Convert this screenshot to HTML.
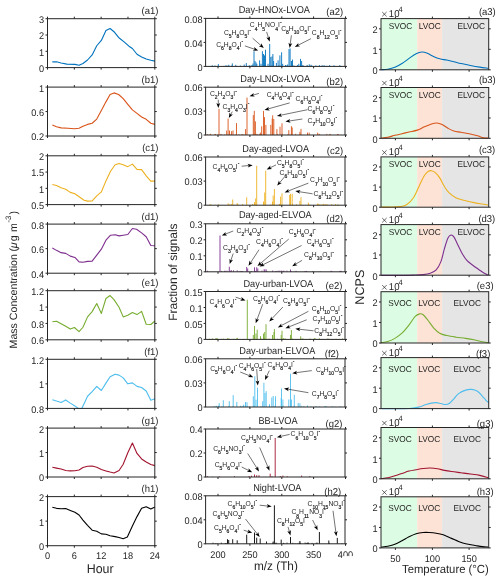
<!DOCTYPE html>
<html><head><meta charset="utf-8"><style>
html,body{margin:0;padding:0;background:#fff;}
svg{display:block;font-family:"Liberation Sans",sans-serif;will-change:transform;text-rendering:geometricPrecision;}
</style></head><body>
<svg width="500" height="581" viewBox="0 0 500 581">
<rect width="500" height="581" fill="#fff"/>
<polyline points="52.36,61.84 56.5,61.84 61.1,62.99 66.85,64.14 74.9,64.37 79.04,65.29 82.95,63.45 87.55,60 92.15,54.94 96.75,45.74 101.35,40.45 105.95,30.56 110.09,28.49 114,31.71 118.6,37.46 124.35,42.06 128.95,46.2 132.4,48.5 137,54.25 141.6,57.01 146.2,59.08 150.8,60.23 154.94,61.15" fill="none" stroke="#0072BD" stroke-width="1.1" stroke-linejoin="round"/>
<line x1="47.5" y1="67.6" x2="47.5" y2="69.6" stroke="#262626" stroke-width="1"/>
<line x1="47.5" y1="18.7" x2="47.5" y2="16.7" stroke="#262626" stroke-width="1"/>
<line x1="74.33" y1="67.6" x2="74.33" y2="69.6" stroke="#262626" stroke-width="1"/>
<line x1="74.33" y1="18.7" x2="74.33" y2="16.7" stroke="#262626" stroke-width="1"/>
<line x1="101.15" y1="67.6" x2="101.15" y2="69.6" stroke="#262626" stroke-width="1"/>
<line x1="101.15" y1="18.7" x2="101.15" y2="16.7" stroke="#262626" stroke-width="1"/>
<line x1="127.98" y1="67.6" x2="127.98" y2="69.6" stroke="#262626" stroke-width="1"/>
<line x1="127.98" y1="18.7" x2="127.98" y2="16.7" stroke="#262626" stroke-width="1"/>
<line x1="154.8" y1="67.6" x2="154.8" y2="69.6" stroke="#262626" stroke-width="1"/>
<line x1="154.8" y1="18.7" x2="154.8" y2="16.7" stroke="#262626" stroke-width="1"/>
<line x1="47.5" y1="67.6" x2="45.5" y2="67.6" stroke="#262626" stroke-width="1"/>
<line x1="154.8" y1="67.6" x2="156.8" y2="67.6" stroke="#262626" stroke-width="1"/>
<line x1="47.5" y1="51.3" x2="45.5" y2="51.3" stroke="#262626" stroke-width="1"/>
<line x1="154.8" y1="51.3" x2="156.8" y2="51.3" stroke="#262626" stroke-width="1"/>
<line x1="47.5" y1="35" x2="45.5" y2="35" stroke="#262626" stroke-width="1"/>
<line x1="154.8" y1="35" x2="156.8" y2="35" stroke="#262626" stroke-width="1"/>
<line x1="47.5" y1="18.7" x2="45.5" y2="18.7" stroke="#262626" stroke-width="1"/>
<line x1="154.8" y1="18.7" x2="156.8" y2="18.7" stroke="#262626" stroke-width="1"/>
<rect x="47.5" y="18.7" width="107.3" height="48.9" fill="none" stroke="#262626" stroke-width="1"/>
<text transform="translate(44,72) scale(1,1.05)" font-size="9.2" text-anchor="end" fill="#262626" >0</text>
<text transform="translate(44,55.7) scale(1,1.05)" font-size="9.2" text-anchor="end" fill="#262626" >1</text>
<text transform="translate(44,39.4) scale(1,1.05)" font-size="9.2" text-anchor="end" fill="#262626" >2</text>
<text transform="translate(44,23.1) scale(1,1.05)" font-size="9.2" text-anchor="end" fill="#262626" >3</text>
<text transform="translate(158.5,14.1) scale(1,1.04)" font-size="9.5" text-anchor="end" fill="#262626" >(a1)</text>
<polyline points="52.36,125.09 56.5,126.7 61.1,127.85 68,128.31 74.44,128.77 79.04,128.31 82.95,126.24 87.55,124.4 92.15,123.25 96.75,119.11 101.35,110.6 105.95,101.86 110.09,94.5 114,92.89 118.6,94.5 123.2,98.64 127.8,104.39 132.4,109.91 137,113.36 141.6,117.04 146.2,119.34 150.8,123.25 154.94,124.4" fill="none" stroke="#D95319" stroke-width="1.1" stroke-linejoin="round"/>
<line x1="47.5" y1="136" x2="47.5" y2="138" stroke="#262626" stroke-width="1"/>
<line x1="47.5" y1="87.1" x2="47.5" y2="85.1" stroke="#262626" stroke-width="1"/>
<line x1="74.33" y1="136" x2="74.33" y2="138" stroke="#262626" stroke-width="1"/>
<line x1="74.33" y1="87.1" x2="74.33" y2="85.1" stroke="#262626" stroke-width="1"/>
<line x1="101.15" y1="136" x2="101.15" y2="138" stroke="#262626" stroke-width="1"/>
<line x1="101.15" y1="87.1" x2="101.15" y2="85.1" stroke="#262626" stroke-width="1"/>
<line x1="127.98" y1="136" x2="127.98" y2="138" stroke="#262626" stroke-width="1"/>
<line x1="127.98" y1="87.1" x2="127.98" y2="85.1" stroke="#262626" stroke-width="1"/>
<line x1="154.8" y1="136" x2="154.8" y2="138" stroke="#262626" stroke-width="1"/>
<line x1="154.8" y1="87.1" x2="154.8" y2="85.1" stroke="#262626" stroke-width="1"/>
<line x1="47.5" y1="136" x2="45.5" y2="136" stroke="#262626" stroke-width="1"/>
<line x1="154.8" y1="136" x2="156.8" y2="136" stroke="#262626" stroke-width="1"/>
<line x1="47.5" y1="111.55" x2="45.5" y2="111.55" stroke="#262626" stroke-width="1"/>
<line x1="154.8" y1="111.55" x2="156.8" y2="111.55" stroke="#262626" stroke-width="1"/>
<line x1="47.5" y1="87.1" x2="45.5" y2="87.1" stroke="#262626" stroke-width="1"/>
<line x1="154.8" y1="87.1" x2="156.8" y2="87.1" stroke="#262626" stroke-width="1"/>
<rect x="47.5" y="87.1" width="107.3" height="48.9" fill="none" stroke="#262626" stroke-width="1"/>
<text transform="translate(44,140.4) scale(1,1.05)" font-size="9.2" text-anchor="end" fill="#262626" >0.2</text>
<text transform="translate(44,115.95) scale(1,1.05)" font-size="9.2" text-anchor="end" fill="#262626" >0.6</text>
<text transform="translate(44,91.5) scale(1,1.05)" font-size="9.2" text-anchor="end" fill="#262626" >1</text>
<text transform="translate(158.5,82.5) scale(1,1.04)" font-size="9.5" text-anchor="end" fill="#262626" >(b1)</text>
<polyline points="52.36,184.58 56.5,185.5 61.1,187.8 65.7,189.18 70.3,192.4 74.9,193.78 79.5,197 84.1,200.22 87.55,201.14 92.15,200.91 96.75,195.85 101.35,191.94 105.95,180.9 110.55,171.24 115.15,164.8 119.06,163.42 123.2,164.8 127.8,166.64 132.4,164.11 137,169.4 141.6,169.63 146.2,175.84 150.8,181.13 154.94,181.13" fill="none" stroke="#EDB120" stroke-width="1.1" stroke-linejoin="round"/>
<line x1="47.5" y1="204.6" x2="47.5" y2="206.6" stroke="#262626" stroke-width="1"/>
<line x1="47.5" y1="155.8" x2="47.5" y2="153.8" stroke="#262626" stroke-width="1"/>
<line x1="74.33" y1="204.6" x2="74.33" y2="206.6" stroke="#262626" stroke-width="1"/>
<line x1="74.33" y1="155.8" x2="74.33" y2="153.8" stroke="#262626" stroke-width="1"/>
<line x1="101.15" y1="204.6" x2="101.15" y2="206.6" stroke="#262626" stroke-width="1"/>
<line x1="101.15" y1="155.8" x2="101.15" y2="153.8" stroke="#262626" stroke-width="1"/>
<line x1="127.98" y1="204.6" x2="127.98" y2="206.6" stroke="#262626" stroke-width="1"/>
<line x1="127.98" y1="155.8" x2="127.98" y2="153.8" stroke="#262626" stroke-width="1"/>
<line x1="154.8" y1="204.6" x2="154.8" y2="206.6" stroke="#262626" stroke-width="1"/>
<line x1="154.8" y1="155.8" x2="154.8" y2="153.8" stroke="#262626" stroke-width="1"/>
<line x1="47.5" y1="204.6" x2="45.5" y2="204.6" stroke="#262626" stroke-width="1"/>
<line x1="154.8" y1="204.6" x2="156.8" y2="204.6" stroke="#262626" stroke-width="1"/>
<line x1="47.5" y1="188.33" x2="45.5" y2="188.33" stroke="#262626" stroke-width="1"/>
<line x1="154.8" y1="188.33" x2="156.8" y2="188.33" stroke="#262626" stroke-width="1"/>
<line x1="47.5" y1="172.07" x2="45.5" y2="172.07" stroke="#262626" stroke-width="1"/>
<line x1="154.8" y1="172.07" x2="156.8" y2="172.07" stroke="#262626" stroke-width="1"/>
<line x1="47.5" y1="155.8" x2="45.5" y2="155.8" stroke="#262626" stroke-width="1"/>
<line x1="154.8" y1="155.8" x2="156.8" y2="155.8" stroke="#262626" stroke-width="1"/>
<rect x="47.5" y="155.8" width="107.3" height="48.8" fill="none" stroke="#262626" stroke-width="1"/>
<text transform="translate(44,209) scale(1,1.05)" font-size="9.2" text-anchor="end" fill="#262626" >0.5</text>
<text transform="translate(44,192.73) scale(1,1.05)" font-size="9.2" text-anchor="end" fill="#262626" >1</text>
<text transform="translate(44,176.47) scale(1,1.05)" font-size="9.2" text-anchor="end" fill="#262626" >1.5</text>
<text transform="translate(44,160.2) scale(1,1.05)" font-size="9.2" text-anchor="end" fill="#262626" >2</text>
<text transform="translate(158.5,151.2) scale(1,1.04)" font-size="9.5" text-anchor="end" fill="#262626" >(c1)</text>
<polyline points="52.36,248.06 56.5,250.36 61.1,252.66 65.7,253.35 70.3,256.11 74.9,257.49 79.04,261.86 82.95,262.32 87.55,261.4 92.15,261.17 96.75,255.19 101.35,249.21 105.95,240.24 110.55,235.18 115.15,234.72 119.06,235.87 123.2,235.18 127.8,234.49 132.4,228.51 136.54,229.2 141.6,232.88 146.2,236.79 150.8,245.53 154.94,245.76" fill="none" stroke="#7E2F8E" stroke-width="1.1" stroke-linejoin="round"/>
<line x1="47.5" y1="273.2" x2="47.5" y2="275.2" stroke="#262626" stroke-width="1"/>
<line x1="47.5" y1="224.1" x2="47.5" y2="222.1" stroke="#262626" stroke-width="1"/>
<line x1="74.33" y1="273.2" x2="74.33" y2="275.2" stroke="#262626" stroke-width="1"/>
<line x1="74.33" y1="224.1" x2="74.33" y2="222.1" stroke="#262626" stroke-width="1"/>
<line x1="101.15" y1="273.2" x2="101.15" y2="275.2" stroke="#262626" stroke-width="1"/>
<line x1="101.15" y1="224.1" x2="101.15" y2="222.1" stroke="#262626" stroke-width="1"/>
<line x1="127.98" y1="273.2" x2="127.98" y2="275.2" stroke="#262626" stroke-width="1"/>
<line x1="127.98" y1="224.1" x2="127.98" y2="222.1" stroke="#262626" stroke-width="1"/>
<line x1="154.8" y1="273.2" x2="154.8" y2="275.2" stroke="#262626" stroke-width="1"/>
<line x1="154.8" y1="224.1" x2="154.8" y2="222.1" stroke="#262626" stroke-width="1"/>
<line x1="47.5" y1="273.2" x2="45.5" y2="273.2" stroke="#262626" stroke-width="1"/>
<line x1="154.8" y1="273.2" x2="156.8" y2="273.2" stroke="#262626" stroke-width="1"/>
<line x1="47.5" y1="248.65" x2="45.5" y2="248.65" stroke="#262626" stroke-width="1"/>
<line x1="154.8" y1="248.65" x2="156.8" y2="248.65" stroke="#262626" stroke-width="1"/>
<line x1="47.5" y1="224.1" x2="45.5" y2="224.1" stroke="#262626" stroke-width="1"/>
<line x1="154.8" y1="224.1" x2="156.8" y2="224.1" stroke="#262626" stroke-width="1"/>
<rect x="47.5" y="224.1" width="107.3" height="49.1" fill="none" stroke="#262626" stroke-width="1"/>
<text transform="translate(44,277.6) scale(1,1.05)" font-size="9.2" text-anchor="end" fill="#262626" >0.4</text>
<text transform="translate(44,253.05) scale(1,1.05)" font-size="9.2" text-anchor="end" fill="#262626" >0.6</text>
<text transform="translate(44,228.5) scale(1,1.05)" font-size="9.2" text-anchor="end" fill="#262626" >0.8</text>
<text transform="translate(158.5,219.5) scale(1,1.04)" font-size="9.5" text-anchor="end" fill="#262626" >(d1)</text>
<polyline points="52.36,321.73 56.5,321.27 61.1,323.8 65.7,326.33 70.3,329.09 74.44,327.48 79.04,331.62 82.95,327.25 87.55,316.9 92.15,311.61 96.75,303.56 101.35,313.45 105.95,298.5 110.09,295.51 114,299.65 119.06,307.24 123.2,316.9 127.8,315.29 132.4,312.53 137,314.6 141.6,311.38 146.2,324.26 150.8,324.49 154.94,321.04" fill="none" stroke="#77AC30" stroke-width="1.1" stroke-linejoin="round"/>
<line x1="47.5" y1="339.8" x2="47.5" y2="341.8" stroke="#262626" stroke-width="1"/>
<line x1="47.5" y1="290.7" x2="47.5" y2="288.7" stroke="#262626" stroke-width="1"/>
<line x1="74.33" y1="339.8" x2="74.33" y2="341.8" stroke="#262626" stroke-width="1"/>
<line x1="74.33" y1="290.7" x2="74.33" y2="288.7" stroke="#262626" stroke-width="1"/>
<line x1="101.15" y1="339.8" x2="101.15" y2="341.8" stroke="#262626" stroke-width="1"/>
<line x1="101.15" y1="290.7" x2="101.15" y2="288.7" stroke="#262626" stroke-width="1"/>
<line x1="127.98" y1="339.8" x2="127.98" y2="341.8" stroke="#262626" stroke-width="1"/>
<line x1="127.98" y1="290.7" x2="127.98" y2="288.7" stroke="#262626" stroke-width="1"/>
<line x1="154.8" y1="339.8" x2="154.8" y2="341.8" stroke="#262626" stroke-width="1"/>
<line x1="154.8" y1="290.7" x2="154.8" y2="288.7" stroke="#262626" stroke-width="1"/>
<line x1="47.5" y1="339.8" x2="45.5" y2="339.8" stroke="#262626" stroke-width="1"/>
<line x1="154.8" y1="339.8" x2="156.8" y2="339.8" stroke="#262626" stroke-width="1"/>
<line x1="47.5" y1="323.43" x2="45.5" y2="323.43" stroke="#262626" stroke-width="1"/>
<line x1="154.8" y1="323.43" x2="156.8" y2="323.43" stroke="#262626" stroke-width="1"/>
<line x1="47.5" y1="307.07" x2="45.5" y2="307.07" stroke="#262626" stroke-width="1"/>
<line x1="154.8" y1="307.07" x2="156.8" y2="307.07" stroke="#262626" stroke-width="1"/>
<line x1="47.5" y1="290.7" x2="45.5" y2="290.7" stroke="#262626" stroke-width="1"/>
<line x1="154.8" y1="290.7" x2="156.8" y2="290.7" stroke="#262626" stroke-width="1"/>
<rect x="47.5" y="290.7" width="107.3" height="49.1" fill="none" stroke="#262626" stroke-width="1"/>
<text transform="translate(44,344.2) scale(1,1.05)" font-size="9.2" text-anchor="end" fill="#262626" >0.6</text>
<text transform="translate(44,327.83) scale(1,1.05)" font-size="9.2" text-anchor="end" fill="#262626" >0.8</text>
<text transform="translate(44,311.47) scale(1,1.05)" font-size="9.2" text-anchor="end" fill="#262626" >1</text>
<text transform="translate(44,295.1) scale(1,1.05)" font-size="9.2" text-anchor="end" fill="#262626" >1.2</text>
<text transform="translate(158.5,286.1) scale(1,1.04)" font-size="9.5" text-anchor="end" fill="#262626" >(e1)</text>
<polyline points="52.36,399.7 56.5,401.08 61.1,402.46 65.7,399.93 70.3,403.15 74.9,405.91 78.35,408.44 81.8,408.44 87.55,396.25 92.15,391.65 96.75,386.36 101.35,390.5 105.95,383.14 110.09,376.7 115.15,374.17 119.06,375.09 123.2,377.85 127.8,383.83 132.4,382.91 137,386.36 141.6,387.51 146.2,390.96 150.8,400.16 154.94,398.78" fill="none" stroke="#4DBEEE" stroke-width="1.1" stroke-linejoin="round"/>
<line x1="47.5" y1="408.4" x2="47.5" y2="410.4" stroke="#262626" stroke-width="1"/>
<line x1="47.5" y1="359.3" x2="47.5" y2="357.3" stroke="#262626" stroke-width="1"/>
<line x1="74.33" y1="408.4" x2="74.33" y2="410.4" stroke="#262626" stroke-width="1"/>
<line x1="74.33" y1="359.3" x2="74.33" y2="357.3" stroke="#262626" stroke-width="1"/>
<line x1="101.15" y1="408.4" x2="101.15" y2="410.4" stroke="#262626" stroke-width="1"/>
<line x1="101.15" y1="359.3" x2="101.15" y2="357.3" stroke="#262626" stroke-width="1"/>
<line x1="127.98" y1="408.4" x2="127.98" y2="410.4" stroke="#262626" stroke-width="1"/>
<line x1="127.98" y1="359.3" x2="127.98" y2="357.3" stroke="#262626" stroke-width="1"/>
<line x1="154.8" y1="408.4" x2="154.8" y2="410.4" stroke="#262626" stroke-width="1"/>
<line x1="154.8" y1="359.3" x2="154.8" y2="357.3" stroke="#262626" stroke-width="1"/>
<line x1="47.5" y1="408.4" x2="45.5" y2="408.4" stroke="#262626" stroke-width="1"/>
<line x1="154.8" y1="408.4" x2="156.8" y2="408.4" stroke="#262626" stroke-width="1"/>
<line x1="47.5" y1="383.85" x2="45.5" y2="383.85" stroke="#262626" stroke-width="1"/>
<line x1="154.8" y1="383.85" x2="156.8" y2="383.85" stroke="#262626" stroke-width="1"/>
<line x1="47.5" y1="359.3" x2="45.5" y2="359.3" stroke="#262626" stroke-width="1"/>
<line x1="154.8" y1="359.3" x2="156.8" y2="359.3" stroke="#262626" stroke-width="1"/>
<rect x="47.5" y="359.3" width="107.3" height="49.1" fill="none" stroke="#262626" stroke-width="1"/>
<text transform="translate(44,412.8) scale(1,1.05)" font-size="9.2" text-anchor="end" fill="#262626" >0.8</text>
<text transform="translate(44,388.25) scale(1,1.05)" font-size="9.2" text-anchor="end" fill="#262626" >1</text>
<text transform="translate(44,363.7) scale(1,1.05)" font-size="9.2" text-anchor="end" fill="#262626" >1.2</text>
<text transform="translate(158.5,354.7) scale(1,1.04)" font-size="9.5" text-anchor="end" fill="#262626" >(f1)</text>
<polyline points="52.36,467.24 56.5,468.16 61.1,469.08 65.7,470.46 70.3,470.92 74.9,470.69 79.04,470 82.95,467.47 87.55,466.32 92.15,466.09 96.75,467.24 101.35,469.54 105.95,470.92 110.09,472.07 114,472.99 119.06,470.46 123.2,464.25 127.8,452.75 132.4,443.09 137,453.44 141.6,458.96 146.2,461.95 150.8,464.48 154.94,465.63" fill="none" stroke="#A2142F" stroke-width="1.1" stroke-linejoin="round"/>
<line x1="47.5" y1="477" x2="47.5" y2="479" stroke="#262626" stroke-width="1"/>
<line x1="47.5" y1="428.1" x2="47.5" y2="426.1" stroke="#262626" stroke-width="1"/>
<line x1="74.33" y1="477" x2="74.33" y2="479" stroke="#262626" stroke-width="1"/>
<line x1="74.33" y1="428.1" x2="74.33" y2="426.1" stroke="#262626" stroke-width="1"/>
<line x1="101.15" y1="477" x2="101.15" y2="479" stroke="#262626" stroke-width="1"/>
<line x1="101.15" y1="428.1" x2="101.15" y2="426.1" stroke="#262626" stroke-width="1"/>
<line x1="127.98" y1="477" x2="127.98" y2="479" stroke="#262626" stroke-width="1"/>
<line x1="127.98" y1="428.1" x2="127.98" y2="426.1" stroke="#262626" stroke-width="1"/>
<line x1="154.8" y1="477" x2="154.8" y2="479" stroke="#262626" stroke-width="1"/>
<line x1="154.8" y1="428.1" x2="154.8" y2="426.1" stroke="#262626" stroke-width="1"/>
<line x1="47.5" y1="477" x2="45.5" y2="477" stroke="#262626" stroke-width="1"/>
<line x1="154.8" y1="477" x2="156.8" y2="477" stroke="#262626" stroke-width="1"/>
<line x1="47.5" y1="452.55" x2="45.5" y2="452.55" stroke="#262626" stroke-width="1"/>
<line x1="154.8" y1="452.55" x2="156.8" y2="452.55" stroke="#262626" stroke-width="1"/>
<line x1="47.5" y1="428.1" x2="45.5" y2="428.1" stroke="#262626" stroke-width="1"/>
<line x1="154.8" y1="428.1" x2="156.8" y2="428.1" stroke="#262626" stroke-width="1"/>
<rect x="47.5" y="428.1" width="107.3" height="48.9" fill="none" stroke="#262626" stroke-width="1"/>
<text transform="translate(44,481.4) scale(1,1.05)" font-size="9.2" text-anchor="end" fill="#262626" >0</text>
<text transform="translate(44,456.95) scale(1,1.05)" font-size="9.2" text-anchor="end" fill="#262626" >1</text>
<text transform="translate(44,432.5) scale(1,1.05)" font-size="9.2" text-anchor="end" fill="#262626" >2</text>
<text transform="translate(158.5,423.5) scale(1,1.04)" font-size="9.5" text-anchor="end" fill="#262626" >(g1)</text>
<polyline points="52.36,507.18 56.5,508.33 61.1,508.79 65.7,508.56 70.3,510.4 74.9,512.24 79.04,515 82.95,520.06 87.55,525.35 92.15,530.18 96.75,531.33 101.35,533.86 105.95,534.32 110.09,535.7 115.15,536.62 119.06,537.54 123.2,538.69 127.34,537.08 132.4,526.04 137,516.61 141.6,508.33 146.2,506.72 150.8,509.02 154.94,506.95" fill="none" stroke="#000000" stroke-width="1.1" stroke-linejoin="round"/>
<line x1="47.5" y1="545.7" x2="47.5" y2="547.7" stroke="#262626" stroke-width="1"/>
<line x1="47.5" y1="496.6" x2="47.5" y2="494.6" stroke="#262626" stroke-width="1"/>
<line x1="74.33" y1="545.7" x2="74.33" y2="547.7" stroke="#262626" stroke-width="1"/>
<line x1="74.33" y1="496.6" x2="74.33" y2="494.6" stroke="#262626" stroke-width="1"/>
<line x1="101.15" y1="545.7" x2="101.15" y2="547.7" stroke="#262626" stroke-width="1"/>
<line x1="101.15" y1="496.6" x2="101.15" y2="494.6" stroke="#262626" stroke-width="1"/>
<line x1="127.98" y1="545.7" x2="127.98" y2="547.7" stroke="#262626" stroke-width="1"/>
<line x1="127.98" y1="496.6" x2="127.98" y2="494.6" stroke="#262626" stroke-width="1"/>
<line x1="154.8" y1="545.7" x2="154.8" y2="547.7" stroke="#262626" stroke-width="1"/>
<line x1="154.8" y1="496.6" x2="154.8" y2="494.6" stroke="#262626" stroke-width="1"/>
<line x1="47.5" y1="545.7" x2="45.5" y2="545.7" stroke="#262626" stroke-width="1"/>
<line x1="154.8" y1="545.7" x2="156.8" y2="545.7" stroke="#262626" stroke-width="1"/>
<line x1="47.5" y1="521.15" x2="45.5" y2="521.15" stroke="#262626" stroke-width="1"/>
<line x1="154.8" y1="521.15" x2="156.8" y2="521.15" stroke="#262626" stroke-width="1"/>
<line x1="47.5" y1="496.6" x2="45.5" y2="496.6" stroke="#262626" stroke-width="1"/>
<line x1="154.8" y1="496.6" x2="156.8" y2="496.6" stroke="#262626" stroke-width="1"/>
<rect x="47.5" y="496.6" width="107.3" height="49.1" fill="none" stroke="#262626" stroke-width="1"/>
<text transform="translate(44,550.1) scale(1,1.05)" font-size="9.2" text-anchor="end" fill="#262626" >0</text>
<text transform="translate(44,525.55) scale(1,1.05)" font-size="9.2" text-anchor="end" fill="#262626" >1</text>
<text transform="translate(44,501) scale(1,1.05)" font-size="9.2" text-anchor="end" fill="#262626" >2</text>
<text transform="translate(158.5,492) scale(1,1.04)" font-size="9.5" text-anchor="end" fill="#262626" >(h1)</text>
<text transform="translate(47.5,559.3) scale(1,1.05)" font-size="9.2" text-anchor="middle" fill="#262626" >0</text>
<text transform="translate(74.33,559.3) scale(1,1.05)" font-size="9.2" text-anchor="middle" fill="#262626" >6</text>
<text transform="translate(101.15,559.3) scale(1,1.05)" font-size="9.2" text-anchor="middle" fill="#262626" >12</text>
<text transform="translate(127.98,559.3) scale(1,1.05)" font-size="9.2" text-anchor="middle" fill="#262626" >18</text>
<text transform="translate(154.8,559.3) scale(1,1.05)" font-size="9.2" text-anchor="middle" fill="#262626" >24</text>
<text transform="translate(100.2,572.8) scale(1,1.04)" font-size="12.4" text-anchor="middle" fill="#262626" >Hour</text>
<g transform="translate(16.5,280) rotate(-90)" fill="#262626">
<text x="-68.4" y="0" font-size="10.6">Mass Concentration</text>
<text x="28.5" y="0" font-size="10.6">(</text>
<text x="31.7" y="0" font-size="10.6" font-style="italic">&#956;</text>
<text x="38.7" y="0" font-size="10.6">g</text>
<text x="48.0" y="0" font-size="10.6">m</text>
<text x="57.5" y="-5.2" font-size="7.8">-3</text>
<text x="65.4" y="0" font-size="10.6">)</text>
</g>
<rect x="381" y="18.6" width="36.2" height="51.2" fill="#dcfde3"/>
<rect x="417.2" y="18.6" width="24.9" height="51.2" fill="#fde3d6"/>
<rect x="442.1" y="18.6" width="46.6" height="51.2" fill="#e5e5e5"/>
<text transform="translate(388.7,28.6) scale(1,1.04)" font-size="8.3" text-anchor="start" fill="#262626" >SVOC</text>
<text transform="translate(418.8,28.6) scale(1,1.04)" font-size="8.3" text-anchor="start" fill="#262626" >LVOC</text>
<text transform="translate(457.5,28.6) scale(1,1.04)" font-size="8.3" text-anchor="start" fill="#262626" >ELVOC</text>
<path d="M381.19,69.7 C382.29,69.62 385.52,69.62 387.8,69.22 C390.08,68.83 392.52,68.28 394.88,67.34 C397.24,66.39 399.6,65.05 401.96,63.56 C404.32,62.07 406.68,60.02 409.04,58.37 C411.4,56.72 413.96,54.71 416.12,53.65 C418.28,52.59 420.25,52.11 422.02,52 C423.79,51.88 424.97,52.27 426.74,52.94 C428.51,53.61 430.48,55.02 432.64,56.01 C434.8,56.99 437.36,58.17 439.72,58.84 C442.08,59.51 444.44,59.55 446.8,60.02 C449.16,60.49 451.52,61.08 453.88,61.67 C456.24,62.26 458.21,62.93 460.96,63.56 C463.71,64.19 467.25,64.86 470.4,65.45 C473.55,66.04 476.89,66.63 479.84,67.1 C482.79,67.57 486.72,68.08 488.1,68.28" fill="none" stroke="#0072BD" stroke-width="1.1" stroke-linejoin="round"/>
<line x1="395.4" y1="69.8" x2="395.4" y2="71.8" stroke="#262626" stroke-width="1"/>
<line x1="395.4" y1="18.6" x2="395.4" y2="16.6" stroke="#262626" stroke-width="1"/>
<line x1="432.4" y1="69.8" x2="432.4" y2="71.8" stroke="#262626" stroke-width="1"/>
<line x1="432.4" y1="18.6" x2="432.4" y2="16.6" stroke="#262626" stroke-width="1"/>
<line x1="469.1" y1="69.8" x2="469.1" y2="71.8" stroke="#262626" stroke-width="1"/>
<line x1="469.1" y1="18.6" x2="469.1" y2="16.6" stroke="#262626" stroke-width="1"/>
<line x1="381" y1="69.8" x2="379" y2="69.8" stroke="#262626" stroke-width="1"/>
<line x1="488.7" y1="69.8" x2="490.7" y2="69.8" stroke="#262626" stroke-width="1"/>
<line x1="381" y1="49.32" x2="379" y2="49.32" stroke="#262626" stroke-width="1"/>
<line x1="488.7" y1="49.32" x2="490.7" y2="49.32" stroke="#262626" stroke-width="1"/>
<line x1="381" y1="28.84" x2="379" y2="28.84" stroke="#262626" stroke-width="1"/>
<line x1="488.7" y1="28.84" x2="490.7" y2="28.84" stroke="#262626" stroke-width="1"/>
<rect x="381" y="18.6" width="107.7" height="51.2" fill="none" stroke="#262626" stroke-width="1"/>
<text transform="translate(377.5,74.2) scale(1,1.05)" font-size="9.2" text-anchor="end" fill="#262626" >0</text>
<text transform="translate(377.5,53.72) scale(1,1.05)" font-size="9.2" text-anchor="end" fill="#262626" >1</text>
<text transform="translate(377.5,33.24) scale(1,1.05)" font-size="9.2" text-anchor="end" fill="#262626" >2</text>
<line x1="382.2" y1="12" x2="386.6" y2="16.4" stroke="#262626" stroke-width="0.7"/>
<line x1="382.2" y1="16.4" x2="386.6" y2="12" stroke="#262626" stroke-width="0.7"/>
<text transform="translate(388.8,17) scale(1,1.04)" font-size="9.6" text-anchor="start" fill="#262626" >10</text>
<text transform="translate(398.5,11.7) scale(1,1.04)" font-size="7.5" text-anchor="start" fill="#262626" >4</text>
<text transform="translate(495.8,14.8) scale(1,1.04)" font-size="9.5" text-anchor="end" fill="#262626" >(a3)</text>
<rect x="381" y="87.5" width="36.2" height="50.8" fill="#dcfde3"/>
<rect x="417.2" y="87.5" width="24.9" height="50.8" fill="#fde3d6"/>
<rect x="442.1" y="87.5" width="46.6" height="50.8" fill="#e5e5e5"/>
<text transform="translate(388.7,97.5) scale(1,1.04)" font-size="8.3" text-anchor="start" fill="#262626" >SVOC</text>
<text transform="translate(418.8,97.5) scale(1,1.04)" font-size="8.3" text-anchor="start" fill="#262626" >LVOC</text>
<text transform="translate(457.5,97.5) scale(1,1.04)" font-size="8.3" text-anchor="start" fill="#262626" >ELVOC</text>
<path d="M381.19,138.17 C382.29,138.01 385.52,137.7 387.8,137.22 C390.08,136.75 392.52,135.93 394.88,135.34 C397.24,134.75 399.6,134.23 401.96,133.68 C404.32,133.13 406.48,132.62 409.04,132.03 C411.6,131.44 414.74,131.01 417.3,130.14 C419.86,129.28 422.02,127.86 424.38,126.84 C426.74,125.82 429.38,124.64 431.46,124.01 C433.54,123.38 435.12,122.99 436.89,123.06 C438.66,123.14 440.23,123.61 442.08,124.48 C443.93,125.35 446.01,127.15 447.98,128.26 C449.95,129.36 451.72,130.42 453.88,131.09 C456.04,131.76 458.21,131.8 460.96,132.27 C463.71,132.74 467.65,133.33 470.4,133.92 C473.15,134.51 475.32,135.18 477.48,135.81 C479.64,136.44 481.61,137.3 483.38,137.7 C485.15,138.09 487.31,138.09 488.1,138.17" fill="none" stroke="#D95319" stroke-width="1.1" stroke-linejoin="round"/>
<line x1="395.4" y1="138.3" x2="395.4" y2="140.3" stroke="#262626" stroke-width="1"/>
<line x1="395.4" y1="87.5" x2="395.4" y2="85.5" stroke="#262626" stroke-width="1"/>
<line x1="432.4" y1="138.3" x2="432.4" y2="140.3" stroke="#262626" stroke-width="1"/>
<line x1="432.4" y1="87.5" x2="432.4" y2="85.5" stroke="#262626" stroke-width="1"/>
<line x1="469.1" y1="138.3" x2="469.1" y2="140.3" stroke="#262626" stroke-width="1"/>
<line x1="469.1" y1="87.5" x2="469.1" y2="85.5" stroke="#262626" stroke-width="1"/>
<line x1="381" y1="138.3" x2="379" y2="138.3" stroke="#262626" stroke-width="1"/>
<line x1="488.7" y1="138.3" x2="490.7" y2="138.3" stroke="#262626" stroke-width="1"/>
<line x1="381" y1="117.98" x2="379" y2="117.98" stroke="#262626" stroke-width="1"/>
<line x1="488.7" y1="117.98" x2="490.7" y2="117.98" stroke="#262626" stroke-width="1"/>
<line x1="381" y1="97.66" x2="379" y2="97.66" stroke="#262626" stroke-width="1"/>
<line x1="488.7" y1="97.66" x2="490.7" y2="97.66" stroke="#262626" stroke-width="1"/>
<rect x="381" y="87.5" width="107.7" height="50.8" fill="none" stroke="#262626" stroke-width="1"/>
<text transform="translate(377.5,142.7) scale(1,1.05)" font-size="9.2" text-anchor="end" fill="#262626" >0</text>
<text transform="translate(377.5,122.38) scale(1,1.05)" font-size="9.2" text-anchor="end" fill="#262626" >1</text>
<text transform="translate(377.5,102.06) scale(1,1.05)" font-size="9.2" text-anchor="end" fill="#262626" >2</text>
<line x1="382.2" y1="80.9" x2="386.6" y2="85.3" stroke="#262626" stroke-width="0.7"/>
<line x1="382.2" y1="85.3" x2="386.6" y2="80.9" stroke="#262626" stroke-width="0.7"/>
<text transform="translate(388.8,85.9) scale(1,1.04)" font-size="9.6" text-anchor="start" fill="#262626" >10</text>
<text transform="translate(398.5,80.6) scale(1,1.04)" font-size="7.5" text-anchor="start" fill="#262626" >4</text>
<text transform="translate(495.8,83.2) scale(1,1.04)" font-size="9.5" text-anchor="end" fill="#262626" >(b3)</text>
<rect x="381" y="156.9" width="36.2" height="50.3" fill="#dcfde3"/>
<rect x="417.2" y="156.9" width="24.9" height="50.3" fill="#fde3d6"/>
<rect x="442.1" y="156.9" width="46.6" height="50.3" fill="#e5e5e5"/>
<text transform="translate(388.7,166.9) scale(1,1.04)" font-size="8.3" text-anchor="start" fill="#262626" >SVOC</text>
<text transform="translate(418.8,166.9) scale(1,1.04)" font-size="8.3" text-anchor="start" fill="#262626" >LVOC</text>
<text transform="translate(457.5,166.9) scale(1,1.04)" font-size="8.3" text-anchor="start" fill="#262626" >ELVOC</text>
<path d="M381.19,207.11 C382.69,207.11 387.09,207.19 390.16,207.11 C393.23,207.03 396.85,207.03 399.6,206.64 C402.35,206.25 404.32,206.33 406.68,204.75 C409.04,203.18 411.6,200.5 413.76,197.2 C415.92,193.9 417.89,188.55 419.66,184.93 C421.43,181.31 422.92,177.77 424.38,175.49 C425.84,173.21 427.21,172.03 428.39,171.24 C429.57,170.45 430.36,170.57 431.46,170.77 C432.56,170.96 433.62,171.24 435,172.42 C436.38,173.6 438.15,175.49 439.72,177.85 C441.29,180.21 442.87,184.06 444.44,186.58 C446.01,189.1 447.19,191.06 449.16,192.95 C451.13,194.84 453.49,196.61 456.24,197.91 C458.99,199.21 462.53,199.91 465.68,200.74 C468.83,201.57 472.37,202.31 475.12,202.86 C477.87,203.41 480.04,203.69 482.2,204.04 C484.36,204.4 487.12,204.83 488.1,204.99" fill="none" stroke="#EDB120" stroke-width="1.1" stroke-linejoin="round"/>
<line x1="395.4" y1="207.2" x2="395.4" y2="209.2" stroke="#262626" stroke-width="1"/>
<line x1="395.4" y1="156.9" x2="395.4" y2="154.9" stroke="#262626" stroke-width="1"/>
<line x1="432.4" y1="207.2" x2="432.4" y2="209.2" stroke="#262626" stroke-width="1"/>
<line x1="432.4" y1="156.9" x2="432.4" y2="154.9" stroke="#262626" stroke-width="1"/>
<line x1="469.1" y1="207.2" x2="469.1" y2="209.2" stroke="#262626" stroke-width="1"/>
<line x1="469.1" y1="156.9" x2="469.1" y2="154.9" stroke="#262626" stroke-width="1"/>
<line x1="381" y1="207.2" x2="379" y2="207.2" stroke="#262626" stroke-width="1"/>
<line x1="488.7" y1="207.2" x2="490.7" y2="207.2" stroke="#262626" stroke-width="1"/>
<line x1="381" y1="187.08" x2="379" y2="187.08" stroke="#262626" stroke-width="1"/>
<line x1="488.7" y1="187.08" x2="490.7" y2="187.08" stroke="#262626" stroke-width="1"/>
<line x1="381" y1="166.96" x2="379" y2="166.96" stroke="#262626" stroke-width="1"/>
<line x1="488.7" y1="166.96" x2="490.7" y2="166.96" stroke="#262626" stroke-width="1"/>
<rect x="381" y="156.9" width="107.7" height="50.3" fill="none" stroke="#262626" stroke-width="1"/>
<text transform="translate(377.5,211.6) scale(1,1.05)" font-size="9.2" text-anchor="end" fill="#262626" >0</text>
<text transform="translate(377.5,191.48) scale(1,1.05)" font-size="9.2" text-anchor="end" fill="#262626" >1</text>
<text transform="translate(377.5,171.36) scale(1,1.05)" font-size="9.2" text-anchor="end" fill="#262626" >2</text>
<line x1="382.2" y1="150.3" x2="386.6" y2="154.7" stroke="#262626" stroke-width="0.7"/>
<line x1="382.2" y1="154.7" x2="386.6" y2="150.3" stroke="#262626" stroke-width="0.7"/>
<text transform="translate(388.8,155.3) scale(1,1.04)" font-size="9.6" text-anchor="start" fill="#262626" >10</text>
<text transform="translate(398.5,150) scale(1,1.04)" font-size="7.5" text-anchor="start" fill="#262626" >4</text>
<text transform="translate(495.3,153) scale(1,1.04)" font-size="9.5" text-anchor="end" fill="#262626" >(c3)</text>
<rect x="381" y="224.6" width="36.2" height="50.6" fill="#dcfde3"/>
<rect x="417.2" y="224.6" width="24.9" height="50.6" fill="#fde3d6"/>
<rect x="442.1" y="224.6" width="46.6" height="50.6" fill="#e5e5e5"/>
<text transform="translate(388.7,234.6) scale(1,1.04)" font-size="8.3" text-anchor="start" fill="#262626" >SVOC</text>
<text transform="translate(418.8,234.6) scale(1,1.04)" font-size="8.3" text-anchor="start" fill="#262626" >LVOC</text>
<text transform="translate(457.5,234.6) scale(1,1.04)" font-size="8.3" text-anchor="start" fill="#262626" >ELVOC</text>
<path d="M381.19,275.35 C384.26,275.35 394.17,275.39 399.6,275.35 C405.03,275.31 409.83,275.23 413.76,275.11 C417.69,274.99 420.45,274.95 423.2,274.64 C425.95,274.33 428.12,274.01 430.28,273.22 C432.44,272.44 434.41,271.85 436.18,269.92 C437.95,267.99 439.52,265.2 440.9,261.66 C442.28,258.12 443.26,252.61 444.44,248.68 C445.62,244.75 446.88,240.34 447.98,238.06 C449.08,235.78 450.06,235.19 451.05,234.99 C452.03,234.8 452.82,235.39 453.88,236.88 C454.94,238.37 456.04,241.21 457.42,243.96 C458.8,246.71 460.57,250.65 462.14,253.4 C463.71,256.15 465.09,258.51 466.86,260.48 C468.63,262.45 470.79,263.71 472.76,265.2 C474.73,266.69 476.89,268.19 478.66,269.45 C480.43,270.71 481.81,271.81 483.38,272.75 C484.95,273.7 487.31,274.72 488.1,275.11" fill="none" stroke="#7E2F8E" stroke-width="1.1" stroke-linejoin="round"/>
<line x1="395.4" y1="275.2" x2="395.4" y2="277.2" stroke="#262626" stroke-width="1"/>
<line x1="395.4" y1="224.6" x2="395.4" y2="222.6" stroke="#262626" stroke-width="1"/>
<line x1="432.4" y1="275.2" x2="432.4" y2="277.2" stroke="#262626" stroke-width="1"/>
<line x1="432.4" y1="224.6" x2="432.4" y2="222.6" stroke="#262626" stroke-width="1"/>
<line x1="469.1" y1="275.2" x2="469.1" y2="277.2" stroke="#262626" stroke-width="1"/>
<line x1="469.1" y1="224.6" x2="469.1" y2="222.6" stroke="#262626" stroke-width="1"/>
<line x1="381" y1="275.2" x2="379" y2="275.2" stroke="#262626" stroke-width="1"/>
<line x1="488.7" y1="275.2" x2="490.7" y2="275.2" stroke="#262626" stroke-width="1"/>
<line x1="381" y1="254.96" x2="379" y2="254.96" stroke="#262626" stroke-width="1"/>
<line x1="488.7" y1="254.96" x2="490.7" y2="254.96" stroke="#262626" stroke-width="1"/>
<line x1="381" y1="234.72" x2="379" y2="234.72" stroke="#262626" stroke-width="1"/>
<line x1="488.7" y1="234.72" x2="490.7" y2="234.72" stroke="#262626" stroke-width="1"/>
<rect x="381" y="224.6" width="107.7" height="50.6" fill="none" stroke="#262626" stroke-width="1"/>
<text transform="translate(377.5,279.6) scale(1,1.05)" font-size="9.2" text-anchor="end" fill="#262626" >0</text>
<text transform="translate(377.5,259.36) scale(1,1.05)" font-size="9.2" text-anchor="end" fill="#262626" >1</text>
<text transform="translate(377.5,239.12) scale(1,1.05)" font-size="9.2" text-anchor="end" fill="#262626" >2</text>
<line x1="382.2" y1="218" x2="386.6" y2="222.4" stroke="#262626" stroke-width="0.7"/>
<line x1="382.2" y1="222.4" x2="386.6" y2="218" stroke="#262626" stroke-width="0.7"/>
<text transform="translate(388.8,223) scale(1,1.04)" font-size="9.6" text-anchor="start" fill="#262626" >10</text>
<text transform="translate(398.5,217.7) scale(1,1.04)" font-size="7.5" text-anchor="start" fill="#262626" >4</text>
<text transform="translate(495.3,221.7) scale(1,1.04)" font-size="9.5" text-anchor="end" fill="#262626" >(d3)</text>
<rect x="381" y="291.7" width="36.2" height="51.3" fill="#dcfde3"/>
<rect x="417.2" y="291.7" width="24.9" height="51.3" fill="#fde3d6"/>
<rect x="442.1" y="291.7" width="46.6" height="51.3" fill="#e5e5e5"/>
<text transform="translate(388.2,306.2) scale(1,1.04)" font-size="8.3" text-anchor="start" fill="#262626" >SVOC</text>
<text transform="translate(418.3,306.2) scale(1,1.04)" font-size="8.3" text-anchor="start" fill="#262626" >LVOC</text>
<text transform="translate(453.5,306.2) scale(1,1.04)" font-size="8.3" text-anchor="start" fill="#262626" >ELVOC</text>
<path d="M381.19,342.64 C382.29,342.44 385.52,342.17 387.8,341.46 C390.08,340.75 392.52,339.77 394.88,338.39 C397.24,337.02 399.6,335.44 401.96,333.2 C404.32,330.96 406.88,327.69 409.04,324.94 C411.2,322.19 413.17,318.53 414.94,316.68 C416.71,314.83 418.28,314.16 419.66,313.85 C421.04,313.53 421.82,313.73 423.2,314.79 C424.58,315.85 426.15,318.02 427.92,320.22 C429.69,322.42 431.85,325.84 433.82,328.01 C435.79,330.17 437.56,331.94 439.72,333.2 C441.88,334.46 444.05,334.89 446.8,335.56 C449.55,336.23 453.09,336.74 456.24,337.21 C459.39,337.68 462.53,337.92 465.68,338.39 C468.83,338.86 472.37,339.49 475.12,340.04 C477.87,340.59 480.04,341.26 482.2,341.7 C484.36,342.13 487.12,342.48 488.1,342.64" fill="none" stroke="#77AC30" stroke-width="1.1" stroke-linejoin="round"/>
<line x1="395.4" y1="343" x2="395.4" y2="345" stroke="#262626" stroke-width="1"/>
<line x1="395.4" y1="291.7" x2="395.4" y2="289.7" stroke="#262626" stroke-width="1"/>
<line x1="432.4" y1="343" x2="432.4" y2="345" stroke="#262626" stroke-width="1"/>
<line x1="432.4" y1="291.7" x2="432.4" y2="289.7" stroke="#262626" stroke-width="1"/>
<line x1="469.1" y1="343" x2="469.1" y2="345" stroke="#262626" stroke-width="1"/>
<line x1="469.1" y1="291.7" x2="469.1" y2="289.7" stroke="#262626" stroke-width="1"/>
<line x1="381" y1="343" x2="379" y2="343" stroke="#262626" stroke-width="1"/>
<line x1="488.7" y1="343" x2="490.7" y2="343" stroke="#262626" stroke-width="1"/>
<line x1="381" y1="322.48" x2="379" y2="322.48" stroke="#262626" stroke-width="1"/>
<line x1="488.7" y1="322.48" x2="490.7" y2="322.48" stroke="#262626" stroke-width="1"/>
<line x1="381" y1="301.96" x2="379" y2="301.96" stroke="#262626" stroke-width="1"/>
<line x1="488.7" y1="301.96" x2="490.7" y2="301.96" stroke="#262626" stroke-width="1"/>
<rect x="381" y="291.7" width="107.7" height="51.3" fill="none" stroke="#262626" stroke-width="1"/>
<text transform="translate(377.5,347.4) scale(1,1.05)" font-size="9.2" text-anchor="end" fill="#262626" >0</text>
<text transform="translate(377.5,326.88) scale(1,1.05)" font-size="9.2" text-anchor="end" fill="#262626" >1</text>
<text transform="translate(377.5,306.36) scale(1,1.05)" font-size="9.2" text-anchor="end" fill="#262626" >2</text>
<line x1="382.2" y1="285.1" x2="386.6" y2="289.5" stroke="#262626" stroke-width="0.7"/>
<line x1="382.2" y1="289.5" x2="386.6" y2="285.1" stroke="#262626" stroke-width="0.7"/>
<text transform="translate(388.8,290.1) scale(1,1.04)" font-size="9.6" text-anchor="start" fill="#262626" >10</text>
<text transform="translate(398.5,284.8) scale(1,1.04)" font-size="7.5" text-anchor="start" fill="#262626" >4</text>
<text transform="translate(493.6,288.6) scale(1,1.04)" font-size="9.5" text-anchor="end" fill="#262626" >(e3)</text>
<rect x="381" y="357.6" width="36.2" height="51" fill="#dcfde3"/>
<rect x="417.2" y="357.6" width="24.9" height="51" fill="#fde3d6"/>
<rect x="442.1" y="357.6" width="46.6" height="51" fill="#e5e5e5"/>
<text transform="translate(388.2,372.1) scale(1,1.04)" font-size="8.3" text-anchor="start" fill="#262626" >SVOC</text>
<text transform="translate(418.3,372.1) scale(1,1.04)" font-size="8.3" text-anchor="start" fill="#262626" >LVOC</text>
<text transform="translate(453.5,372.1) scale(1,1.04)" font-size="8.3" text-anchor="start" fill="#262626" >ELVOC</text>
<path d="M381.66,408.75 C384.65,408.75 394.64,408.83 399.6,408.75 C404.56,408.67 408.25,408.56 411.4,408.28 C414.55,408 416.12,407.69 418.48,407.1 C420.84,406.51 423.4,405.41 425.56,404.74 C427.72,404.07 429.69,403.44 431.46,403.09 C433.23,402.73 434.61,402.54 436.18,402.62 C437.75,402.69 439.33,403.25 440.9,403.56 C442.47,403.87 444.24,404.5 445.62,404.5 C447,404.5 447.78,404.5 449.16,403.56 C450.54,402.62 452.31,400.49 453.88,398.84 C455.45,397.19 456.63,395.1 458.6,393.65 C460.57,392.19 463.52,390.82 465.68,390.11 C467.84,389.4 469.61,389.2 471.58,389.4 C473.55,389.6 475.71,390.19 477.48,391.29 C479.25,392.39 480.82,394.55 482.2,396.01 C483.58,397.46 484.64,398.88 485.74,400.02 C486.84,401.16 488.3,402.38 488.81,402.85" fill="none" stroke="#4DBEEE" stroke-width="1.1" stroke-linejoin="round"/>
<line x1="395.4" y1="408.6" x2="395.4" y2="410.6" stroke="#262626" stroke-width="1"/>
<line x1="395.4" y1="357.6" x2="395.4" y2="355.6" stroke="#262626" stroke-width="1"/>
<line x1="432.4" y1="408.6" x2="432.4" y2="410.6" stroke="#262626" stroke-width="1"/>
<line x1="432.4" y1="357.6" x2="432.4" y2="355.6" stroke="#262626" stroke-width="1"/>
<line x1="469.1" y1="408.6" x2="469.1" y2="410.6" stroke="#262626" stroke-width="1"/>
<line x1="469.1" y1="357.6" x2="469.1" y2="355.6" stroke="#262626" stroke-width="1"/>
<line x1="381" y1="408.6" x2="379" y2="408.6" stroke="#262626" stroke-width="1"/>
<line x1="488.7" y1="408.6" x2="490.7" y2="408.6" stroke="#262626" stroke-width="1"/>
<line x1="381" y1="388.2" x2="379" y2="388.2" stroke="#262626" stroke-width="1"/>
<line x1="488.7" y1="388.2" x2="490.7" y2="388.2" stroke="#262626" stroke-width="1"/>
<line x1="381" y1="367.8" x2="379" y2="367.8" stroke="#262626" stroke-width="1"/>
<line x1="488.7" y1="367.8" x2="490.7" y2="367.8" stroke="#262626" stroke-width="1"/>
<rect x="381" y="357.6" width="107.7" height="51" fill="none" stroke="#262626" stroke-width="1"/>
<text transform="translate(377.5,413) scale(1,1.05)" font-size="9.2" text-anchor="end" fill="#262626" >0</text>
<text transform="translate(377.5,392.6) scale(1,1.05)" font-size="9.2" text-anchor="end" fill="#262626" >1</text>
<text transform="translate(377.5,372.2) scale(1,1.05)" font-size="9.2" text-anchor="end" fill="#262626" >2</text>
<line x1="382.2" y1="351" x2="386.6" y2="355.4" stroke="#262626" stroke-width="0.7"/>
<line x1="382.2" y1="355.4" x2="386.6" y2="351" stroke="#262626" stroke-width="0.7"/>
<text transform="translate(388.8,356) scale(1,1.04)" font-size="9.6" text-anchor="start" fill="#262626" >10</text>
<text transform="translate(398.5,350.7) scale(1,1.04)" font-size="7.5" text-anchor="start" fill="#262626" >4</text>
<text transform="translate(490.3,356.6) scale(1,1.04)" font-size="9.5" text-anchor="end" fill="#262626" >(f3)</text>
<rect x="381" y="427.5" width="36.2" height="51.3" fill="#dcfde3"/>
<rect x="417.2" y="427.5" width="24.9" height="51.3" fill="#fde3d6"/>
<rect x="442.1" y="427.5" width="46.6" height="51.3" fill="#e5e5e5"/>
<text transform="translate(388.2,442) scale(1,1.04)" font-size="8.3" text-anchor="start" fill="#262626" >SVOC</text>
<text transform="translate(418.3,442) scale(1,1.04)" font-size="8.3" text-anchor="start" fill="#262626" >LVOC</text>
<text transform="translate(453.5,442) scale(1,1.04)" font-size="8.3" text-anchor="start" fill="#262626" >ELVOC</text>
<path d="M381.19,478.64 C382.29,478.48 385.52,478.17 387.8,477.7 C390.08,477.22 392.52,476.52 394.88,475.81 C397.24,475.1 399.6,474.23 401.96,473.45 C404.32,472.66 406.68,471.72 409.04,471.09 C411.4,470.46 413.76,470.1 416.12,469.67 C418.48,469.24 420.84,468.77 423.2,468.49 C425.56,468.22 427.92,467.98 430.28,468.02 C432.64,468.06 435,468.33 437.36,468.73 C439.72,469.12 442.08,469.91 444.44,470.38 C446.8,470.85 448.77,471.17 451.52,471.56 C454.27,471.95 457.81,472.35 460.96,472.74 C464.11,473.13 467.25,473.49 470.4,473.92 C473.55,474.35 476.89,474.71 479.84,475.34 C482.79,475.97 486.72,477.3 488.1,477.7" fill="none" stroke="#A2142F" stroke-width="1.1" stroke-linejoin="round"/>
<line x1="395.4" y1="478.8" x2="395.4" y2="480.8" stroke="#262626" stroke-width="1"/>
<line x1="395.4" y1="427.5" x2="395.4" y2="425.5" stroke="#262626" stroke-width="1"/>
<line x1="432.4" y1="478.8" x2="432.4" y2="480.8" stroke="#262626" stroke-width="1"/>
<line x1="432.4" y1="427.5" x2="432.4" y2="425.5" stroke="#262626" stroke-width="1"/>
<line x1="469.1" y1="478.8" x2="469.1" y2="480.8" stroke="#262626" stroke-width="1"/>
<line x1="469.1" y1="427.5" x2="469.1" y2="425.5" stroke="#262626" stroke-width="1"/>
<line x1="381" y1="478.8" x2="379" y2="478.8" stroke="#262626" stroke-width="1"/>
<line x1="488.7" y1="478.8" x2="490.7" y2="478.8" stroke="#262626" stroke-width="1"/>
<line x1="381" y1="458.28" x2="379" y2="458.28" stroke="#262626" stroke-width="1"/>
<line x1="488.7" y1="458.28" x2="490.7" y2="458.28" stroke="#262626" stroke-width="1"/>
<line x1="381" y1="437.76" x2="379" y2="437.76" stroke="#262626" stroke-width="1"/>
<line x1="488.7" y1="437.76" x2="490.7" y2="437.76" stroke="#262626" stroke-width="1"/>
<rect x="381" y="427.5" width="107.7" height="51.3" fill="none" stroke="#262626" stroke-width="1"/>
<text transform="translate(377.5,483.2) scale(1,1.05)" font-size="9.2" text-anchor="end" fill="#262626" >0</text>
<text transform="translate(377.5,462.68) scale(1,1.05)" font-size="9.2" text-anchor="end" fill="#262626" >1</text>
<text transform="translate(377.5,442.16) scale(1,1.05)" font-size="9.2" text-anchor="end" fill="#262626" >2</text>
<line x1="382.2" y1="420.9" x2="386.6" y2="425.3" stroke="#262626" stroke-width="0.7"/>
<line x1="382.2" y1="425.3" x2="386.6" y2="420.9" stroke="#262626" stroke-width="0.7"/>
<text transform="translate(388.8,425.9) scale(1,1.04)" font-size="9.6" text-anchor="start" fill="#262626" >10</text>
<text transform="translate(398.5,420.6) scale(1,1.04)" font-size="7.5" text-anchor="start" fill="#262626" >4</text>
<text transform="translate(493.6,427.3) scale(1,1.04)" font-size="9.5" text-anchor="end" fill="#262626" >(g3)</text>
<rect x="381" y="496.8" width="36.2" height="51.1" fill="#dcfde3"/>
<rect x="417.2" y="496.8" width="24.9" height="51.1" fill="#fde3d6"/>
<rect x="442.1" y="496.8" width="46.6" height="51.1" fill="#e5e5e5"/>
<text transform="translate(388.2,511.3) scale(1,1.04)" font-size="8.3" text-anchor="start" fill="#262626" >SVOC</text>
<text transform="translate(418.3,511.3) scale(1,1.04)" font-size="8.3" text-anchor="start" fill="#262626" >LVOC</text>
<text transform="translate(453.5,511.3) scale(1,1.04)" font-size="8.3" text-anchor="start" fill="#262626" >ELVOC</text>
<path d="M381.19,547.11 C382.29,546.95 385.52,546.64 387.8,546.17 C390.08,545.7 392.52,545.18 394.88,544.28 C397.24,543.38 399.6,542 401.96,540.74 C404.32,539.48 406.68,537.91 409.04,536.73 C411.4,535.55 413.76,534.37 416.12,533.66 C418.48,532.95 421.04,532.68 423.2,532.48 C425.36,532.28 426.94,532.36 429.1,532.48 C431.26,532.6 433.82,532.79 436.18,533.19 C438.54,533.58 440.7,533.97 443.26,534.84 C445.82,535.71 448.96,537.28 451.52,538.38 C454.08,539.48 456.24,540.54 458.6,541.45 C460.96,542.35 462.93,543.14 465.68,543.81 C468.43,544.48 472.37,544.99 475.12,545.46 C477.87,545.93 480.04,546.36 482.2,546.64 C484.36,546.92 487.12,547.03 488.1,547.11" fill="none" stroke="#000000" stroke-width="1.1" stroke-linejoin="round"/>
<line x1="395.4" y1="547.9" x2="395.4" y2="549.9" stroke="#262626" stroke-width="1"/>
<line x1="395.4" y1="496.8" x2="395.4" y2="494.8" stroke="#262626" stroke-width="1"/>
<line x1="432.4" y1="547.9" x2="432.4" y2="549.9" stroke="#262626" stroke-width="1"/>
<line x1="432.4" y1="496.8" x2="432.4" y2="494.8" stroke="#262626" stroke-width="1"/>
<line x1="469.1" y1="547.9" x2="469.1" y2="549.9" stroke="#262626" stroke-width="1"/>
<line x1="469.1" y1="496.8" x2="469.1" y2="494.8" stroke="#262626" stroke-width="1"/>
<line x1="381" y1="547.9" x2="379" y2="547.9" stroke="#262626" stroke-width="1"/>
<line x1="488.7" y1="547.9" x2="490.7" y2="547.9" stroke="#262626" stroke-width="1"/>
<line x1="381" y1="527.46" x2="379" y2="527.46" stroke="#262626" stroke-width="1"/>
<line x1="488.7" y1="527.46" x2="490.7" y2="527.46" stroke="#262626" stroke-width="1"/>
<line x1="381" y1="507.02" x2="379" y2="507.02" stroke="#262626" stroke-width="1"/>
<line x1="488.7" y1="507.02" x2="490.7" y2="507.02" stroke="#262626" stroke-width="1"/>
<rect x="381" y="496.8" width="107.7" height="51.1" fill="none" stroke="#262626" stroke-width="1"/>
<text transform="translate(377.5,552.3) scale(1,1.05)" font-size="9.2" text-anchor="end" fill="#262626" >0</text>
<text transform="translate(377.5,531.86) scale(1,1.05)" font-size="9.2" text-anchor="end" fill="#262626" >1</text>
<text transform="translate(377.5,511.42) scale(1,1.05)" font-size="9.2" text-anchor="end" fill="#262626" >2</text>
<line x1="382.2" y1="490.2" x2="386.6" y2="494.6" stroke="#262626" stroke-width="0.7"/>
<line x1="382.2" y1="494.6" x2="386.6" y2="490.2" stroke="#262626" stroke-width="0.7"/>
<text transform="translate(388.8,495.2) scale(1,1.04)" font-size="9.6" text-anchor="start" fill="#262626" >10</text>
<text transform="translate(398.5,489.9) scale(1,1.04)" font-size="7.5" text-anchor="start" fill="#262626" >4</text>
<text transform="translate(493.6,494.6) scale(1,1.04)" font-size="9.5" text-anchor="end" fill="#262626" >(h3)</text>
<text transform="translate(395.4,562.4) scale(1,1.05)" font-size="9.2" text-anchor="middle" fill="#262626" >50</text>
<text transform="translate(432.4,562.4) scale(1,1.05)" font-size="9.2" text-anchor="middle" fill="#262626" >100</text>
<text transform="translate(469.1,562.4) scale(1,1.05)" font-size="9.2" text-anchor="middle" fill="#262626" >150</text>
<text transform="translate(445.4,572.6) scale(1,1.04)" font-size="11.3" text-anchor="middle" fill="#262626" >Temperature (&#176;C)</text>
<text transform="translate(364.0,287.2) rotate(-90)" font-size="12.6" text-anchor="middle" fill="#262626">NCPS</text>
<line x1="251.37" y1="66.4" x2="251.37" y2="65.95" stroke="#0072BD" stroke-width="0.8"/>
<line x1="296.18" y1="66.4" x2="296.18" y2="66.03" stroke="#0072BD" stroke-width="0.8"/>
<line x1="280.42" y1="66.4" x2="280.42" y2="65.73" stroke="#0072BD" stroke-width="0.8"/>
<line x1="214.95" y1="66.4" x2="214.95" y2="65.59" stroke="#0072BD" stroke-width="0.8"/>
<line x1="212.14" y1="66.4" x2="212.14" y2="65.67" stroke="#0072BD" stroke-width="0.8"/>
<line x1="216.57" y1="66.4" x2="216.57" y2="66.01" stroke="#0072BD" stroke-width="0.8"/>
<line x1="265.16" y1="66.4" x2="265.16" y2="65.27" stroke="#0072BD" stroke-width="0.8"/>
<line x1="223.96" y1="66.4" x2="223.96" y2="65.88" stroke="#0072BD" stroke-width="0.8"/>
<line x1="292.96" y1="66.4" x2="292.96" y2="65.15" stroke="#0072BD" stroke-width="0.8"/>
<line x1="286.06" y1="66.4" x2="286.06" y2="65.7" stroke="#0072BD" stroke-width="0.8"/>
<line x1="340.75" y1="66.4" x2="340.75" y2="66.05" stroke="#0072BD" stroke-width="0.8"/>
<line x1="324.61" y1="66.4" x2="324.61" y2="65.81" stroke="#0072BD" stroke-width="0.8"/>
<line x1="226.76" y1="66.4" x2="226.76" y2="65.98" stroke="#0072BD" stroke-width="0.8"/>
<line x1="249.26" y1="66.4" x2="249.26" y2="65.28" stroke="#0072BD" stroke-width="0.8"/>
<line x1="231.76" y1="66.4" x2="231.76" y2="65.52" stroke="#0072BD" stroke-width="0.8"/>
<line x1="294.53" y1="66.4" x2="294.53" y2="65.73" stroke="#0072BD" stroke-width="0.8"/>
<line x1="282.04" y1="66.4" x2="282.04" y2="66.04" stroke="#0072BD" stroke-width="0.8"/>
<line x1="215.17" y1="66.4" x2="215.17" y2="65.89" stroke="#0072BD" stroke-width="0.8"/>
<line x1="300.21" y1="66.4" x2="300.21" y2="65.67" stroke="#0072BD" stroke-width="0.8"/>
<line x1="250.04" y1="66.4" x2="250.04" y2="65.51" stroke="#0072BD" stroke-width="0.8"/>
<line x1="269.09" y1="66.4" x2="269.09" y2="65.8" stroke="#0072BD" stroke-width="0.8"/>
<line x1="315.83" y1="66.4" x2="315.83" y2="65.4" stroke="#0072BD" stroke-width="0.8"/>
<line x1="240.44" y1="66.4" x2="240.44" y2="65.53" stroke="#0072BD" stroke-width="0.8"/>
<line x1="278.95" y1="66.4" x2="278.95" y2="65.22" stroke="#0072BD" stroke-width="0.8"/>
<line x1="306.93" y1="66.4" x2="306.93" y2="65.81" stroke="#0072BD" stroke-width="0.8"/>
<line x1="341.28" y1="66.4" x2="341.28" y2="65.98" stroke="#0072BD" stroke-width="0.8"/>
<line x1="264.28" y1="66.4" x2="264.28" y2="65.34" stroke="#0072BD" stroke-width="0.8"/>
<line x1="227.82" y1="66.4" x2="227.82" y2="65.61" stroke="#0072BD" stroke-width="0.8"/>
<line x1="212.37" y1="66.4" x2="212.37" y2="65.43" stroke="#0072BD" stroke-width="0.8"/>
<line x1="311.75" y1="66.4" x2="311.75" y2="65.53" stroke="#0072BD" stroke-width="0.8"/>
<line x1="326.94" y1="66.4" x2="326.94" y2="65.79" stroke="#0072BD" stroke-width="0.8"/>
<line x1="302.26" y1="66.4" x2="302.26" y2="65.51" stroke="#0072BD" stroke-width="0.8"/>
<line x1="286.45" y1="66.4" x2="286.45" y2="65.64" stroke="#0072BD" stroke-width="0.8"/>
<line x1="322.08" y1="66.4" x2="322.08" y2="65.16" stroke="#0072BD" stroke-width="0.8"/>
<line x1="271.95" y1="66.4" x2="271.95" y2="65.44" stroke="#0072BD" stroke-width="0.8"/>
<line x1="218.3" y1="66.4" x2="218.3" y2="64.1" stroke="#0072BD" stroke-width="0.9"/>
<line x1="226" y1="66.4" x2="226" y2="65.2" stroke="#0072BD" stroke-width="0.9"/>
<line x1="228.8" y1="66.4" x2="228.8" y2="64.8" stroke="#0072BD" stroke-width="0.9"/>
<line x1="232.3" y1="66.4" x2="232.3" y2="63.4" stroke="#0072BD" stroke-width="0.9"/>
<line x1="235.8" y1="66.4" x2="235.8" y2="64.8" stroke="#0072BD" stroke-width="0.9"/>
<line x1="244.2" y1="66.4" x2="244.2" y2="64.5" stroke="#0072BD" stroke-width="0.9"/>
<line x1="246.3" y1="66.4" x2="246.3" y2="63.1" stroke="#0072BD" stroke-width="0.9"/>
<line x1="252" y1="66.4" x2="252" y2="65" stroke="#0072BD" stroke-width="0.9"/>
<line x1="253" y1="66.4" x2="253" y2="63.5" stroke="#0072BD" stroke-width="0.9"/>
<line x1="254" y1="66.4" x2="254" y2="51.2" stroke="#0072BD" stroke-width="0.9"/>
<line x1="255" y1="66.4" x2="255" y2="61" stroke="#0072BD" stroke-width="0.9"/>
<line x1="256" y1="66.4" x2="256" y2="62.4" stroke="#0072BD" stroke-width="0.9"/>
<line x1="256.8" y1="66.4" x2="256.8" y2="63.8" stroke="#0072BD" stroke-width="0.9"/>
<line x1="259.6" y1="66.4" x2="259.6" y2="60.3" stroke="#0072BD" stroke-width="0.9"/>
<line x1="261" y1="66.4" x2="261" y2="63.8" stroke="#0072BD" stroke-width="0.9"/>
<line x1="262.4" y1="66.4" x2="262.4" y2="51.2" stroke="#0072BD" stroke-width="0.9"/>
<line x1="263.5" y1="66.4" x2="263.5" y2="54" stroke="#0072BD" stroke-width="0.9"/>
<line x1="264.5" y1="66.4" x2="264.5" y2="55.4" stroke="#0072BD" stroke-width="0.9"/>
<line x1="265.5" y1="66.4" x2="265.5" y2="49.8" stroke="#0072BD" stroke-width="0.9"/>
<line x1="268" y1="66.4" x2="268" y2="63.8" stroke="#0072BD" stroke-width="0.9"/>
<line x1="269.7" y1="66.4" x2="269.7" y2="43.9" stroke="#0072BD" stroke-width="0.9"/>
<line x1="270.8" y1="66.4" x2="270.8" y2="57" stroke="#0072BD" stroke-width="0.9"/>
<line x1="272" y1="66.4" x2="272" y2="56.4" stroke="#0072BD" stroke-width="0.9"/>
<line x1="272.9" y1="66.4" x2="272.9" y2="54" stroke="#0072BD" stroke-width="0.9"/>
<line x1="273.6" y1="66.4" x2="273.6" y2="61" stroke="#0072BD" stroke-width="0.9"/>
<line x1="276.4" y1="66.4" x2="276.4" y2="62.9" stroke="#0072BD" stroke-width="0.9"/>
<line x1="278.1" y1="66.4" x2="278.1" y2="60.3" stroke="#0072BD" stroke-width="0.9"/>
<line x1="279.9" y1="66.4" x2="279.9" y2="55.4" stroke="#0072BD" stroke-width="0.9"/>
<line x1="281.6" y1="66.4" x2="281.6" y2="52.3" stroke="#0072BD" stroke-width="0.9"/>
<line x1="282.7" y1="66.4" x2="282.7" y2="63.8" stroke="#0072BD" stroke-width="0.9"/>
<line x1="285.5" y1="66.4" x2="285.5" y2="65" stroke="#0072BD" stroke-width="0.9"/>
<line x1="287.6" y1="66.4" x2="287.6" y2="64.5" stroke="#0072BD" stroke-width="0.9"/>
<line x1="289" y1="66.4" x2="289" y2="49.1" stroke="#0072BD" stroke-width="0.9"/>
<line x1="290.1" y1="66.4" x2="290.1" y2="48.4" stroke="#0072BD" stroke-width="0.9"/>
<line x1="291.5" y1="66.4" x2="291.5" y2="61" stroke="#0072BD" stroke-width="0.9"/>
<line x1="292.5" y1="66.4" x2="292.5" y2="59.6" stroke="#0072BD" stroke-width="0.9"/>
<line x1="297.4" y1="66.4" x2="297.4" y2="65" stroke="#0072BD" stroke-width="0.9"/>
<line x1="298.8" y1="66.4" x2="298.8" y2="63.8" stroke="#0072BD" stroke-width="0.9"/>
<line x1="300.5" y1="66.4" x2="300.5" y2="58.9" stroke="#0072BD" stroke-width="0.9"/>
<line x1="301.6" y1="66.4" x2="301.6" y2="61" stroke="#0072BD" stroke-width="0.9"/>
<line x1="303" y1="66.4" x2="303" y2="65" stroke="#0072BD" stroke-width="0.9"/>
<line x1="307.2" y1="66.4" x2="307.2" y2="65.1" stroke="#0072BD" stroke-width="0.9"/>
<line x1="309.3" y1="66.4" x2="309.3" y2="64.3" stroke="#0072BD" stroke-width="0.9"/>
<line x1="311" y1="66.4" x2="311" y2="64.8" stroke="#0072BD" stroke-width="0.9"/>
<line x1="319.4" y1="66.4" x2="319.4" y2="65.1" stroke="#0072BD" stroke-width="0.9"/>
<line x1="324" y1="66.4" x2="324" y2="65.3" stroke="#0072BD" stroke-width="0.9"/>
<line x1="329.6" y1="66.4" x2="329.6" y2="65.1" stroke="#0072BD" stroke-width="0.9"/>
<line x1="334" y1="66.4" x2="334" y2="65.3" stroke="#0072BD" stroke-width="0.9"/>
<line x1="339.8" y1="66.4" x2="339.8" y2="65.1" stroke="#0072BD" stroke-width="0.9"/>
<line x1="218" y1="66.4" x2="218" y2="68.4" stroke="#262626" stroke-width="1"/>
<line x1="218" y1="18.4" x2="218" y2="16.4" stroke="#262626" stroke-width="1"/>
<line x1="249.9" y1="66.4" x2="249.9" y2="68.4" stroke="#262626" stroke-width="1"/>
<line x1="249.9" y1="18.4" x2="249.9" y2="16.4" stroke="#262626" stroke-width="1"/>
<line x1="281.8" y1="66.4" x2="281.8" y2="68.4" stroke="#262626" stroke-width="1"/>
<line x1="281.8" y1="18.4" x2="281.8" y2="16.4" stroke="#262626" stroke-width="1"/>
<line x1="313.6" y1="66.4" x2="313.6" y2="68.4" stroke="#262626" stroke-width="1"/>
<line x1="313.6" y1="18.4" x2="313.6" y2="16.4" stroke="#262626" stroke-width="1"/>
<line x1="345.5" y1="66.4" x2="345.5" y2="68.4" stroke="#262626" stroke-width="1"/>
<line x1="345.5" y1="18.4" x2="345.5" y2="16.4" stroke="#262626" stroke-width="1"/>
<line x1="205.6" y1="66.4" x2="203.6" y2="66.4" stroke="#262626" stroke-width="1"/>
<line x1="345" y1="66.4" x2="347" y2="66.4" stroke="#262626" stroke-width="1"/>
<line x1="205.6" y1="42.4" x2="203.6" y2="42.4" stroke="#262626" stroke-width="1"/>
<line x1="345" y1="42.4" x2="347" y2="42.4" stroke="#262626" stroke-width="1"/>
<line x1="205.6" y1="18.4" x2="203.6" y2="18.4" stroke="#262626" stroke-width="1"/>
<line x1="345" y1="18.4" x2="347" y2="18.4" stroke="#262626" stroke-width="1"/>
<rect x="205.6" y="18.4" width="139.4" height="48" fill="none" stroke="#262626" stroke-width="1"/>
<text transform="translate(202.5,70.6) scale(1,1.05)" font-size="9.2" text-anchor="end" fill="#262626" >0</text>
<text transform="translate(202.5,46.6) scale(1,1.05)" font-size="9.2" text-anchor="end" fill="#262626" >0.04</text>
<text transform="translate(202.5,22.6) scale(1,1.05)" font-size="9.2" text-anchor="end" fill="#262626" >0.08</text>
<text transform="translate(274.3,13.2) scale(1,1.08)" font-size="9.2" text-anchor="middle" fill="#262626">Day-HNOx-LVOA</text>
<text transform="translate(343.2,14.6) scale(1,1.04)" font-size="9.5" text-anchor="end" fill="#262626" >(a2)</text>
<text x="216.2" y="46.6" fill="#262626" style="text-rendering:optimizeSpeed"><tspan font-size="6.75" dy="0">C</tspan><tspan font-size="5.0" dy="3.2" stroke="#262626" stroke-width="0.2">6</tspan><tspan font-size="6.75" dy="-3.2">H</tspan><tspan font-size="5.0" dy="3.2" stroke="#262626" stroke-width="0.2">8</tspan><tspan font-size="6.75" dy="-3.2">O</tspan><tspan font-size="5.0" dy="3.2" stroke="#262626" stroke-width="0.2">4</tspan><tspan font-size="6.75" dy="-3.2">I</tspan><tspan font-size="5.0" dy="-3.4" stroke="#262626" stroke-width="0.2">-</tspan></text>
<line x1="244.9" y1="45.9" x2="254.66" y2="49.27" stroke="#000" stroke-width="0.55"/>
<polygon points="258.2,50.5 252.85,50.66 254.66,49.27 254.1,47.07" fill="#000"/>
<text x="223.9" y="35.1" fill="#262626" style="text-rendering:optimizeSpeed"><tspan font-size="6.75" dy="0">C</tspan><tspan font-size="5.0" dy="3.2" stroke="#262626" stroke-width="0.2">5</tspan><tspan font-size="6.75" dy="-3.2">H</tspan><tspan font-size="5.0" dy="3.2" stroke="#262626" stroke-width="0.2">8</tspan><tspan font-size="6.75" dy="-3.2">O</tspan><tspan font-size="5.0" dy="3.2" stroke="#262626" stroke-width="0.2">5</tspan><tspan font-size="6.75" dy="-3.2">I</tspan><tspan font-size="5.0" dy="-3.4" stroke="#262626" stroke-width="0.2">-</tspan></text>
<line x1="252.6" y1="38.2" x2="260.98" y2="45.53" stroke="#000" stroke-width="0.55"/>
<polygon points="263.8,48 258.79,46.14 260.98,45.53 261.29,43.28" fill="#000"/>
<text x="249.8" y="27.3" fill="#262626" style="text-rendering:optimizeSpeed"><tspan font-size="6.75" dy="0">C</tspan><tspan font-size="5.0" dy="3.2" stroke="#262626" stroke-width="0.2">4</tspan><tspan font-size="6.75" dy="-3.2">H</tspan><tspan font-size="5.0" dy="3.2" stroke="#262626" stroke-width="0.2">5</tspan><tspan font-size="6.75" dy="-3.2">NO</tspan><tspan font-size="5.0" dy="3.2" stroke="#262626" stroke-width="0.2">4</tspan><tspan font-size="6.75" dy="-3.2">I</tspan><tspan font-size="5.0" dy="-3.4" stroke="#262626" stroke-width="0.2">-</tspan></text>
<line x1="266.6" y1="31.9" x2="268.57" y2="38.12" stroke="#000" stroke-width="0.55"/>
<polygon points="269.7,41.7 266.38,37.51 268.57,38.12 270,36.36" fill="#000"/>
<text x="281.2" y="31.1" fill="#262626" style="text-rendering:optimizeSpeed"><tspan font-size="6.75" dy="0">C</tspan><tspan font-size="5.0" dy="3.2" stroke="#262626" stroke-width="0.2">8</tspan><tspan font-size="6.75" dy="-3.2">H</tspan><tspan font-size="5.0" dy="3.2" stroke="#262626" stroke-width="0.2">10</tspan><tspan font-size="6.75" dy="-3.2">O</tspan><tspan font-size="5.0" dy="3.2" stroke="#262626" stroke-width="0.2">5</tspan><tspan font-size="6.75" dy="-3.2">I</tspan><tspan font-size="5.0" dy="-3.4" stroke="#262626" stroke-width="0.2">-</tspan></text>
<line x1="291.4" y1="35.3" x2="290.2" y2="44.28" stroke="#000" stroke-width="0.55"/>
<polygon points="289.7,48 288.48,42.79 290.2,44.28 292.25,43.3" fill="#000"/>
<text x="311.8" y="35.3" fill="#262626" style="text-rendering:optimizeSpeed"><tspan font-size="6.75" dy="0">C</tspan><tspan font-size="5.0" dy="3.2" stroke="#262626" stroke-width="0.2">8</tspan><tspan font-size="6.75" dy="-3.2">H</tspan><tspan font-size="5.0" dy="3.2" stroke="#262626" stroke-width="0.2">12</tspan><tspan font-size="6.75" dy="-3.2">O</tspan><tspan font-size="5.0" dy="3.2" stroke="#262626" stroke-width="0.2">5</tspan><tspan font-size="6.75" dy="-3.2">I</tspan><tspan font-size="5.0" dy="-3.4" stroke="#262626" stroke-width="0.2">-</tspan></text>
<line x1="310.9" y1="38.7" x2="298.14" y2="45.2" stroke="#000" stroke-width="0.55"/>
<polygon points="294.8,46.9 298.39,42.94 298.14,45.2 300.12,46.32" fill="#000"/>
<line x1="215.31" y1="135" x2="215.31" y2="134" stroke="#D95319" stroke-width="0.8"/>
<line x1="295.66" y1="135" x2="295.66" y2="133.71" stroke="#D95319" stroke-width="0.8"/>
<line x1="319.6" y1="135" x2="319.6" y2="134.42" stroke="#D95319" stroke-width="0.8"/>
<line x1="259.85" y1="135" x2="259.85" y2="134.03" stroke="#D95319" stroke-width="0.8"/>
<line x1="210.09" y1="135" x2="210.09" y2="134.24" stroke="#D95319" stroke-width="0.8"/>
<line x1="230.02" y1="135" x2="230.02" y2="134.58" stroke="#D95319" stroke-width="0.8"/>
<line x1="215.08" y1="135" x2="215.08" y2="133.93" stroke="#D95319" stroke-width="0.8"/>
<line x1="224.72" y1="135" x2="224.72" y2="134.45" stroke="#D95319" stroke-width="0.8"/>
<line x1="260.56" y1="135" x2="260.56" y2="133.83" stroke="#D95319" stroke-width="0.8"/>
<line x1="218.04" y1="135" x2="218.04" y2="134.25" stroke="#D95319" stroke-width="0.8"/>
<line x1="282.27" y1="135" x2="282.27" y2="133.82" stroke="#D95319" stroke-width="0.8"/>
<line x1="319.24" y1="135" x2="319.24" y2="133.84" stroke="#D95319" stroke-width="0.8"/>
<line x1="245.14" y1="135" x2="245.14" y2="134.28" stroke="#D95319" stroke-width="0.8"/>
<line x1="256.15" y1="135" x2="256.15" y2="133.82" stroke="#D95319" stroke-width="0.8"/>
<line x1="338.21" y1="135" x2="338.21" y2="134.55" stroke="#D95319" stroke-width="0.8"/>
<line x1="231.14" y1="135" x2="231.14" y2="134.47" stroke="#D95319" stroke-width="0.8"/>
<line x1="238.97" y1="135" x2="238.97" y2="134.22" stroke="#D95319" stroke-width="0.8"/>
<line x1="287.71" y1="135" x2="287.71" y2="134.44" stroke="#D95319" stroke-width="0.8"/>
<line x1="207.56" y1="135" x2="207.56" y2="134.28" stroke="#D95319" stroke-width="0.8"/>
<line x1="257.59" y1="135" x2="257.59" y2="134.13" stroke="#D95319" stroke-width="0.8"/>
<line x1="337.57" y1="135" x2="337.57" y2="134.01" stroke="#D95319" stroke-width="0.8"/>
<line x1="277.62" y1="135" x2="277.62" y2="134.08" stroke="#D95319" stroke-width="0.8"/>
<line x1="299.64" y1="135" x2="299.64" y2="134.65" stroke="#D95319" stroke-width="0.8"/>
<line x1="330.24" y1="135" x2="330.24" y2="133.92" stroke="#D95319" stroke-width="0.8"/>
<line x1="326.81" y1="135" x2="326.81" y2="133.9" stroke="#D95319" stroke-width="0.8"/>
<line x1="260.76" y1="135" x2="260.76" y2="134.3" stroke="#D95319" stroke-width="0.8"/>
<line x1="221.18" y1="135" x2="221.18" y2="134.07" stroke="#D95319" stroke-width="0.8"/>
<line x1="215.53" y1="135" x2="215.53" y2="134.63" stroke="#D95319" stroke-width="0.8"/>
<line x1="235.6" y1="135" x2="235.6" y2="134.54" stroke="#D95319" stroke-width="0.8"/>
<line x1="253.59" y1="135" x2="253.59" y2="134.65" stroke="#D95319" stroke-width="0.8"/>
<line x1="207.03" y1="135" x2="207.03" y2="134.55" stroke="#D95319" stroke-width="0.8"/>
<line x1="220.9" y1="135" x2="220.9" y2="134.34" stroke="#D95319" stroke-width="0.8"/>
<line x1="210.49" y1="135" x2="210.49" y2="133.83" stroke="#D95319" stroke-width="0.8"/>
<line x1="291.13" y1="135" x2="291.13" y2="134.55" stroke="#D95319" stroke-width="0.8"/>
<line x1="241.56" y1="135" x2="241.56" y2="134.35" stroke="#D95319" stroke-width="0.8"/>
<line x1="219" y1="135" x2="219" y2="108.8" stroke="#D95319" stroke-width="0.9"/>
<line x1="226.7" y1="135" x2="226.7" y2="130.5" stroke="#D95319" stroke-width="0.9"/>
<line x1="228.1" y1="135" x2="228.1" y2="118.6" stroke="#D95319" stroke-width="0.9"/>
<line x1="229.5" y1="135" x2="229.5" y2="130.5" stroke="#D95319" stroke-width="0.9"/>
<line x1="231.6" y1="135" x2="231.6" y2="131.2" stroke="#D95319" stroke-width="0.9"/>
<line x1="233" y1="135" x2="233" y2="130.5" stroke="#D95319" stroke-width="0.9"/>
<line x1="236.5" y1="135" x2="236.5" y2="123.1" stroke="#D95319" stroke-width="0.9"/>
<line x1="242.8" y1="135" x2="242.8" y2="134" stroke="#D95319" stroke-width="0.9"/>
<line x1="245.6" y1="135" x2="245.6" y2="129.1" stroke="#D95319" stroke-width="0.9"/>
<line x1="247" y1="135" x2="247" y2="97.6" stroke="#D95319" stroke-width="0.9"/>
<line x1="253.3" y1="135" x2="253.3" y2="115.1" stroke="#D95319" stroke-width="0.9"/>
<line x1="254.3" y1="135" x2="254.3" y2="110.9" stroke="#D95319" stroke-width="0.9"/>
<line x1="255.4" y1="135" x2="255.4" y2="121.4" stroke="#D95319" stroke-width="0.9"/>
<line x1="260.3" y1="135" x2="260.3" y2="132.6" stroke="#D95319" stroke-width="0.9"/>
<line x1="261.7" y1="135" x2="261.7" y2="126.3" stroke="#D95319" stroke-width="0.9"/>
<line x1="263.5" y1="135" x2="263.5" y2="110.9" stroke="#D95319" stroke-width="0.9"/>
<line x1="264.5" y1="135" x2="264.5" y2="117.2" stroke="#D95319" stroke-width="0.9"/>
<line x1="265.9" y1="135" x2="265.9" y2="124.9" stroke="#D95319" stroke-width="0.9"/>
<line x1="270.8" y1="135" x2="270.8" y2="124.9" stroke="#D95319" stroke-width="0.9"/>
<line x1="272.2" y1="135" x2="272.2" y2="118.6" stroke="#D95319" stroke-width="0.9"/>
<line x1="272.7" y1="135" x2="272.7" y2="115.3" stroke="#D95319" stroke-width="0.9"/>
<line x1="273.8" y1="135" x2="273.8" y2="119" stroke="#D95319" stroke-width="0.9"/>
<line x1="276.9" y1="135" x2="276.9" y2="129.2" stroke="#D95319" stroke-width="0.9"/>
<line x1="280" y1="135" x2="280" y2="126.7" stroke="#D95319" stroke-width="0.9"/>
<line x1="282" y1="135" x2="282" y2="123.3" stroke="#D95319" stroke-width="0.9"/>
<line x1="288.8" y1="135" x2="288.8" y2="130.1" stroke="#D95319" stroke-width="0.9"/>
<line x1="291.4" y1="135" x2="291.4" y2="126.2" stroke="#D95319" stroke-width="0.9"/>
<line x1="292.2" y1="135" x2="292.2" y2="127.5" stroke="#D95319" stroke-width="0.9"/>
<line x1="299.9" y1="135" x2="299.9" y2="131.8" stroke="#D95319" stroke-width="0.9"/>
<line x1="301" y1="135" x2="301" y2="128.9" stroke="#D95319" stroke-width="0.9"/>
<line x1="307.5" y1="135" x2="307.5" y2="132.6" stroke="#D95319" stroke-width="0.9"/>
<line x1="309.2" y1="135" x2="309.2" y2="132.6" stroke="#D95319" stroke-width="0.9"/>
<line x1="317.7" y1="135" x2="317.7" y2="132.6" stroke="#D95319" stroke-width="0.9"/>
<line x1="329.6" y1="135" x2="329.6" y2="134.3" stroke="#D95319" stroke-width="0.9"/>
<line x1="338.1" y1="135" x2="338.1" y2="134.3" stroke="#D95319" stroke-width="0.9"/>
<line x1="218" y1="135" x2="218" y2="137" stroke="#262626" stroke-width="1"/>
<line x1="218" y1="87.2" x2="218" y2="85.2" stroke="#262626" stroke-width="1"/>
<line x1="249.9" y1="135" x2="249.9" y2="137" stroke="#262626" stroke-width="1"/>
<line x1="249.9" y1="87.2" x2="249.9" y2="85.2" stroke="#262626" stroke-width="1"/>
<line x1="281.8" y1="135" x2="281.8" y2="137" stroke="#262626" stroke-width="1"/>
<line x1="281.8" y1="87.2" x2="281.8" y2="85.2" stroke="#262626" stroke-width="1"/>
<line x1="313.6" y1="135" x2="313.6" y2="137" stroke="#262626" stroke-width="1"/>
<line x1="313.6" y1="87.2" x2="313.6" y2="85.2" stroke="#262626" stroke-width="1"/>
<line x1="345.5" y1="135" x2="345.5" y2="137" stroke="#262626" stroke-width="1"/>
<line x1="345.5" y1="87.2" x2="345.5" y2="85.2" stroke="#262626" stroke-width="1"/>
<line x1="205.6" y1="135" x2="203.6" y2="135" stroke="#262626" stroke-width="1"/>
<line x1="345" y1="135" x2="347" y2="135" stroke="#262626" stroke-width="1"/>
<line x1="205.6" y1="111.1" x2="203.6" y2="111.1" stroke="#262626" stroke-width="1"/>
<line x1="345" y1="111.1" x2="347" y2="111.1" stroke="#262626" stroke-width="1"/>
<line x1="205.6" y1="87.2" x2="203.6" y2="87.2" stroke="#262626" stroke-width="1"/>
<line x1="345" y1="87.2" x2="347" y2="87.2" stroke="#262626" stroke-width="1"/>
<rect x="205.6" y="87.2" width="139.4" height="47.8" fill="none" stroke="#262626" stroke-width="1"/>
<text transform="translate(202.5,139.2) scale(1,1.05)" font-size="9.2" text-anchor="end" fill="#262626" >0</text>
<text transform="translate(202.5,115.3) scale(1,1.05)" font-size="9.2" text-anchor="end" fill="#262626" >0.03</text>
<text transform="translate(202.5,91.4) scale(1,1.05)" font-size="9.2" text-anchor="end" fill="#262626" >0.06</text>
<text transform="translate(275.2,81.9) scale(1,1.08)" font-size="9.2" text-anchor="middle" fill="#262626">Day-LNOx-LVOA</text>
<text transform="translate(343.2,84.6) scale(1,1.04)" font-size="9.5" text-anchor="end" fill="#262626" >(b2)</text>
<text x="209.9" y="95.9" fill="#262626" style="text-rendering:optimizeSpeed"><tspan font-size="6.75" dy="0">C</tspan><tspan font-size="5.0" dy="3.2" stroke="#262626" stroke-width="0.2">2</tspan><tspan font-size="6.75" dy="-3.2">H</tspan><tspan font-size="5.0" dy="3.2" stroke="#262626" stroke-width="0.2">2</tspan><tspan font-size="6.75" dy="-3.2">O</tspan><tspan font-size="5.0" dy="3.2" stroke="#262626" stroke-width="0.2">3</tspan><tspan font-size="6.75" dy="-3.2">I</tspan><tspan font-size="5.0" dy="-3.4" stroke="#262626" stroke-width="0.2">-</tspan></text>
<line x1="218.3" y1="99.7" x2="218.3" y2="104.35" stroke="#000" stroke-width="0.55"/>
<polygon points="218.3,108.1 216.4,103.1 218.3,104.35 220.2,103.1" fill="#000"/>
<text x="222.5" y="108.5" fill="#262626" style="text-rendering:optimizeSpeed"><tspan font-size="6.75" dy="0">C</tspan><tspan font-size="5.0" dy="3.2" stroke="#262626" stroke-width="0.2">3</tspan><tspan font-size="6.75" dy="-3.2">H</tspan><tspan font-size="5.0" dy="3.2" stroke="#262626" stroke-width="0.2">4</tspan><tspan font-size="6.75" dy="-3.2">O</tspan><tspan font-size="5.0" dy="3.2" stroke="#262626" stroke-width="0.2">3</tspan><tspan font-size="6.75" dy="-3.2">I</tspan><tspan font-size="5.0" dy="-3.4" stroke="#262626" stroke-width="0.2">-</tspan></text>
<line x1="232.3" y1="111.6" x2="230.62" y2="114.62" stroke="#000" stroke-width="0.55"/>
<polygon points="228.8,117.9 229.57,112.61 230.62,114.62 232.89,114.45" fill="#000"/>
<text x="266.7" y="97.1" fill="#262626" style="text-rendering:optimizeSpeed"><tspan font-size="6.75" dy="0">C</tspan><tspan font-size="5.0" dy="3.2" stroke="#262626" stroke-width="0.2">4</tspan><tspan font-size="6.75" dy="-3.2">H</tspan><tspan font-size="5.0" dy="3.2" stroke="#262626" stroke-width="0.2">6</tspan><tspan font-size="6.75" dy="-3.2">O</tspan><tspan font-size="5.0" dy="3.2" stroke="#262626" stroke-width="0.2">4</tspan><tspan font-size="6.75" dy="-3.2">I</tspan><tspan font-size="5.0" dy="-3.4" stroke="#262626" stroke-width="0.2">-</tspan></text>
<line x1="258.9" y1="93.4" x2="253.09" y2="95.13" stroke="#000" stroke-width="0.55"/>
<polygon points="249.5,96.2 253.75,92.95 253.09,95.13 254.83,96.59" fill="#000"/>
<text x="295.6" y="100.5" fill="#262626" style="text-rendering:optimizeSpeed"><tspan font-size="6.75" dy="0">C</tspan><tspan font-size="5.0" dy="3.2" stroke="#262626" stroke-width="0.2">6</tspan><tspan font-size="6.75" dy="-3.2">H</tspan><tspan font-size="5.0" dy="3.2" stroke="#262626" stroke-width="0.2">8</tspan><tspan font-size="6.75" dy="-3.2">O</tspan><tspan font-size="5.0" dy="3.2" stroke="#262626" stroke-width="0.2">4</tspan><tspan font-size="6.75" dy="-3.2">I</tspan><tspan font-size="5.0" dy="-3.4" stroke="#262626" stroke-width="0.2">-</tspan></text>
<line x1="289.7" y1="102.9" x2="268.11" y2="108.9" stroke="#000" stroke-width="0.55"/>
<polygon points="264.5,109.9 268.81,106.73 268.11,108.9 269.83,110.39" fill="#000"/>
<text x="307.5" y="110.7" fill="#262626" style="text-rendering:optimizeSpeed"><tspan font-size="6.75" dy="0">C</tspan><tspan font-size="5.0" dy="3.2" stroke="#262626" stroke-width="0.2">6</tspan><tspan font-size="6.75" dy="-3.2">H</tspan><tspan font-size="5.0" dy="3.2" stroke="#262626" stroke-width="0.2">8</tspan><tspan font-size="6.75" dy="-3.2">O</tspan><tspan font-size="5.0" dy="3.2" stroke="#262626" stroke-width="0.2">5</tspan><tspan font-size="6.75" dy="-3.2">I</tspan><tspan font-size="5.0" dy="-3.4" stroke="#262626" stroke-width="0.2">-</tspan></text>
<line x1="307.5" y1="109.7" x2="280.57" y2="115.24" stroke="#000" stroke-width="0.55"/>
<polygon points="276.9,116 281.41,113.13 280.57,115.24 282.18,116.85" fill="#000"/>
<text x="307.5" y="122.6" fill="#262626" style="text-rendering:optimizeSpeed"><tspan font-size="6.75" dy="0">C</tspan><tspan font-size="5.0" dy="3.2" stroke="#262626" stroke-width="0.2">7</tspan><tspan font-size="6.75" dy="-3.2">H</tspan><tspan font-size="5.0" dy="3.2" stroke="#262626" stroke-width="0.2">10</tspan><tspan font-size="6.75" dy="-3.2">O</tspan><tspan font-size="5.0" dy="3.2" stroke="#262626" stroke-width="0.2">5</tspan><tspan font-size="6.75" dy="-3.2">I</tspan><tspan font-size="5.0" dy="-3.4" stroke="#262626" stroke-width="0.2">-</tspan></text>
<line x1="302.4" y1="119" x2="289.11" y2="121.03" stroke="#000" stroke-width="0.55"/>
<polygon points="285.4,121.6 290.06,118.97 289.11,121.03 290.63,122.72" fill="#000"/>
<line x1="256.89" y1="205.2" x2="256.89" y2="204.78" stroke="#EDB120" stroke-width="0.8"/>
<line x1="323.3" y1="205.2" x2="323.3" y2="203.91" stroke="#EDB120" stroke-width="0.8"/>
<line x1="270.84" y1="205.2" x2="270.84" y2="204.42" stroke="#EDB120" stroke-width="0.8"/>
<line x1="218.77" y1="205.2" x2="218.77" y2="204.8" stroke="#EDB120" stroke-width="0.8"/>
<line x1="253.94" y1="205.2" x2="253.94" y2="204.64" stroke="#EDB120" stroke-width="0.8"/>
<line x1="320.55" y1="205.2" x2="320.55" y2="204.74" stroke="#EDB120" stroke-width="0.8"/>
<line x1="210.16" y1="205.2" x2="210.16" y2="203.95" stroke="#EDB120" stroke-width="0.8"/>
<line x1="279.37" y1="205.2" x2="279.37" y2="204.75" stroke="#EDB120" stroke-width="0.8"/>
<line x1="281.41" y1="205.2" x2="281.41" y2="204.87" stroke="#EDB120" stroke-width="0.8"/>
<line x1="279.35" y1="205.2" x2="279.35" y2="203.92" stroke="#EDB120" stroke-width="0.8"/>
<line x1="325.28" y1="205.2" x2="325.28" y2="204.2" stroke="#EDB120" stroke-width="0.8"/>
<line x1="242.77" y1="205.2" x2="242.77" y2="204.53" stroke="#EDB120" stroke-width="0.8"/>
<line x1="229.88" y1="205.2" x2="229.88" y2="204.13" stroke="#EDB120" stroke-width="0.8"/>
<line x1="279.97" y1="205.2" x2="279.97" y2="204.12" stroke="#EDB120" stroke-width="0.8"/>
<line x1="252.16" y1="205.2" x2="252.16" y2="204.68" stroke="#EDB120" stroke-width="0.8"/>
<line x1="318.18" y1="205.2" x2="318.18" y2="203.92" stroke="#EDB120" stroke-width="0.8"/>
<line x1="323.81" y1="205.2" x2="323.81" y2="204.09" stroke="#EDB120" stroke-width="0.8"/>
<line x1="319.11" y1="205.2" x2="319.11" y2="204.16" stroke="#EDB120" stroke-width="0.8"/>
<line x1="238.06" y1="205.2" x2="238.06" y2="204.38" stroke="#EDB120" stroke-width="0.8"/>
<line x1="255.71" y1="205.2" x2="255.71" y2="204.87" stroke="#EDB120" stroke-width="0.8"/>
<line x1="210.83" y1="205.2" x2="210.83" y2="204.62" stroke="#EDB120" stroke-width="0.8"/>
<line x1="242.51" y1="205.2" x2="242.51" y2="204.21" stroke="#EDB120" stroke-width="0.8"/>
<line x1="338.04" y1="205.2" x2="338.04" y2="204.45" stroke="#EDB120" stroke-width="0.8"/>
<line x1="335.37" y1="205.2" x2="335.37" y2="203.91" stroke="#EDB120" stroke-width="0.8"/>
<line x1="337.84" y1="205.2" x2="337.84" y2="204.54" stroke="#EDB120" stroke-width="0.8"/>
<line x1="237.2" y1="205.2" x2="237.2" y2="204.67" stroke="#EDB120" stroke-width="0.8"/>
<line x1="233.95" y1="205.2" x2="233.95" y2="204.7" stroke="#EDB120" stroke-width="0.8"/>
<line x1="292.5" y1="205.2" x2="292.5" y2="204" stroke="#EDB120" stroke-width="0.8"/>
<line x1="322.14" y1="205.2" x2="322.14" y2="204.42" stroke="#EDB120" stroke-width="0.8"/>
<line x1="296.46" y1="205.2" x2="296.46" y2="204.1" stroke="#EDB120" stroke-width="0.8"/>
<line x1="218.61" y1="205.2" x2="218.61" y2="204.24" stroke="#EDB120" stroke-width="0.8"/>
<line x1="331.64" y1="205.2" x2="331.64" y2="204.12" stroke="#EDB120" stroke-width="0.8"/>
<line x1="309.77" y1="205.2" x2="309.77" y2="204.42" stroke="#EDB120" stroke-width="0.8"/>
<line x1="231.46" y1="205.2" x2="231.46" y2="204.11" stroke="#EDB120" stroke-width="0.8"/>
<line x1="252.55" y1="205.2" x2="252.55" y2="204.1" stroke="#EDB120" stroke-width="0.8"/>
<line x1="228.2" y1="205.2" x2="228.2" y2="203.3" stroke="#EDB120" stroke-width="0.9"/>
<line x1="232.7" y1="205.2" x2="232.7" y2="199.5" stroke="#EDB120" stroke-width="0.9"/>
<line x1="237.2" y1="205.2" x2="237.2" y2="203" stroke="#EDB120" stroke-width="0.9"/>
<line x1="246.7" y1="205.2" x2="246.7" y2="197.3" stroke="#EDB120" stroke-width="0.9"/>
<line x1="254.5" y1="205.2" x2="254.5" y2="202.2" stroke="#EDB120" stroke-width="0.9"/>
<line x1="255.7" y1="205.2" x2="255.7" y2="198.5" stroke="#EDB120" stroke-width="0.9"/>
<line x1="256.7" y1="205.2" x2="256.7" y2="165.8" stroke="#EDB120" stroke-width="0.9"/>
<line x1="263.5" y1="205.2" x2="263.5" y2="201.5" stroke="#EDB120" stroke-width="0.9"/>
<line x1="264.7" y1="205.2" x2="264.7" y2="192.5" stroke="#EDB120" stroke-width="0.9"/>
<line x1="265.7" y1="205.2" x2="265.7" y2="170.7" stroke="#EDB120" stroke-width="0.9"/>
<line x1="272.5" y1="205.2" x2="272.5" y2="201.5" stroke="#EDB120" stroke-width="0.9"/>
<line x1="273.2" y1="205.2" x2="273.2" y2="195.5" stroke="#EDB120" stroke-width="0.9"/>
<line x1="274.4" y1="205.2" x2="274.4" y2="189" stroke="#EDB120" stroke-width="0.9"/>
<line x1="280.6" y1="205.2" x2="280.6" y2="196.7" stroke="#EDB120" stroke-width="0.9"/>
<line x1="282" y1="205.2" x2="282" y2="193.3" stroke="#EDB120" stroke-width="0.9"/>
<line x1="289.7" y1="205.2" x2="289.7" y2="195" stroke="#EDB120" stroke-width="0.9"/>
<line x1="290.5" y1="205.2" x2="290.5" y2="193.8" stroke="#EDB120" stroke-width="0.9"/>
<line x1="292.2" y1="205.2" x2="292.2" y2="193.8" stroke="#EDB120" stroke-width="0.9"/>
<line x1="299.9" y1="205.2" x2="299.9" y2="200.9" stroke="#EDB120" stroke-width="0.9"/>
<line x1="301" y1="205.2" x2="301" y2="197.2" stroke="#EDB120" stroke-width="0.9"/>
<line x1="308.4" y1="205.2" x2="308.4" y2="202.6" stroke="#EDB120" stroke-width="0.9"/>
<line x1="317.7" y1="205.2" x2="317.7" y2="203.5" stroke="#EDB120" stroke-width="0.9"/>
<line x1="327" y1="205.2" x2="327" y2="204" stroke="#EDB120" stroke-width="0.9"/>
<line x1="218" y1="205.2" x2="218" y2="207.2" stroke="#262626" stroke-width="1"/>
<line x1="218" y1="157" x2="218" y2="155" stroke="#262626" stroke-width="1"/>
<line x1="249.9" y1="205.2" x2="249.9" y2="207.2" stroke="#262626" stroke-width="1"/>
<line x1="249.9" y1="157" x2="249.9" y2="155" stroke="#262626" stroke-width="1"/>
<line x1="281.8" y1="205.2" x2="281.8" y2="207.2" stroke="#262626" stroke-width="1"/>
<line x1="281.8" y1="157" x2="281.8" y2="155" stroke="#262626" stroke-width="1"/>
<line x1="313.6" y1="205.2" x2="313.6" y2="207.2" stroke="#262626" stroke-width="1"/>
<line x1="313.6" y1="157" x2="313.6" y2="155" stroke="#262626" stroke-width="1"/>
<line x1="345.5" y1="205.2" x2="345.5" y2="207.2" stroke="#262626" stroke-width="1"/>
<line x1="345.5" y1="157" x2="345.5" y2="155" stroke="#262626" stroke-width="1"/>
<line x1="205.6" y1="205.2" x2="203.6" y2="205.2" stroke="#262626" stroke-width="1"/>
<line x1="345" y1="205.2" x2="347" y2="205.2" stroke="#262626" stroke-width="1"/>
<line x1="205.6" y1="181.1" x2="203.6" y2="181.1" stroke="#262626" stroke-width="1"/>
<line x1="345" y1="181.1" x2="347" y2="181.1" stroke="#262626" stroke-width="1"/>
<line x1="205.6" y1="157" x2="203.6" y2="157" stroke="#262626" stroke-width="1"/>
<line x1="345" y1="157" x2="347" y2="157" stroke="#262626" stroke-width="1"/>
<rect x="205.6" y="157" width="139.4" height="48.2" fill="none" stroke="#262626" stroke-width="1"/>
<text transform="translate(202.5,209.4) scale(1,1.05)" font-size="9.2" text-anchor="end" fill="#262626" >0</text>
<text transform="translate(202.5,185.3) scale(1,1.05)" font-size="9.2" text-anchor="end" fill="#262626" >0.03</text>
<text transform="translate(202.5,161.2) scale(1,1.05)" font-size="9.2" text-anchor="end" fill="#262626" >0.06</text>
<text transform="translate(275.7,151.7) scale(1,1.08)" font-size="9.2" text-anchor="middle" fill="#262626">Day-aged-LVOA</text>
<text transform="translate(343.2,154.2) scale(1,1.04)" font-size="9.5" text-anchor="end" fill="#262626" >(c2)</text>
<text x="212.5" y="168.5" fill="#262626" style="text-rendering:optimizeSpeed"><tspan font-size="6.75" dy="0">C</tspan><tspan font-size="5.0" dy="3.2" stroke="#262626" stroke-width="0.2">4</tspan><tspan font-size="6.75" dy="-3.2">H</tspan><tspan font-size="5.0" dy="3.2" stroke="#262626" stroke-width="0.2">6</tspan><tspan font-size="6.75" dy="-3.2">O</tspan><tspan font-size="5.0" dy="3.2" stroke="#262626" stroke-width="0.2">5</tspan><tspan font-size="6.75" dy="-3.2">I</tspan><tspan font-size="5.0" dy="-3.4" stroke="#262626" stroke-width="0.2">-</tspan></text>
<line x1="241.7" y1="166.2" x2="248.97" y2="165.54" stroke="#000" stroke-width="0.55"/>
<polygon points="252.7,165.2 247.89,167.54 248.97,165.54 247.55,163.76" fill="#000"/>
<text x="276.9" y="164.6" fill="#262626" style="text-rendering:optimizeSpeed"><tspan font-size="6.75" dy="0">C</tspan><tspan font-size="5.0" dy="3.2" stroke="#262626" stroke-width="0.2">5</tspan><tspan font-size="6.75" dy="-3.2">H</tspan><tspan font-size="5.0" dy="3.2" stroke="#262626" stroke-width="0.2">8</tspan><tspan font-size="6.75" dy="-3.2">O</tspan><tspan font-size="5.0" dy="3.2" stroke="#262626" stroke-width="0.2">5</tspan><tspan font-size="6.75" dy="-3.2">I</tspan><tspan font-size="5.0" dy="-3.4" stroke="#262626" stroke-width="0.2">-</tspan></text>
<line x1="276" y1="164.9" x2="270.06" y2="167.84" stroke="#000" stroke-width="0.55"/>
<polygon points="266.7,169.5 270.34,165.58 270.06,167.84 272.02,168.99" fill="#000"/>
<text x="279.5" y="174.8" fill="#262626" style="text-rendering:optimizeSpeed"><tspan font-size="6.75" dy="0">C</tspan><tspan font-size="5.0" dy="3.2" stroke="#262626" stroke-width="0.2">6</tspan><tspan font-size="6.75" dy="-3.2">H</tspan><tspan font-size="5.0" dy="3.2" stroke="#262626" stroke-width="0.2">10</tspan><tspan font-size="6.75" dy="-3.2">O</tspan><tspan font-size="5.0" dy="3.2" stroke="#262626" stroke-width="0.2">5</tspan><tspan font-size="6.75" dy="-3.2">I</tspan><tspan font-size="5.0" dy="-3.4" stroke="#262626" stroke-width="0.2">-</tspan></text>
<line x1="284.6" y1="176.8" x2="279.61" y2="182.73" stroke="#000" stroke-width="0.55"/>
<polygon points="277.2,185.6 278.96,180.55 279.61,182.73 281.87,183" fill="#000"/>
<text x="310" y="182.4" fill="#262626" style="text-rendering:optimizeSpeed"><tspan font-size="6.75" dy="0">C</tspan><tspan font-size="5.0" dy="3.2" stroke="#262626" stroke-width="0.2">7</tspan><tspan font-size="6.75" dy="-3.2">H</tspan><tspan font-size="5.0" dy="3.2" stroke="#262626" stroke-width="0.2">10</tspan><tspan font-size="6.75" dy="-3.2">O</tspan><tspan font-size="5.0" dy="3.2" stroke="#262626" stroke-width="0.2">5</tspan><tspan font-size="6.75" dy="-3.2">I</tspan><tspan font-size="5.0" dy="-3.4" stroke="#262626" stroke-width="0.2">-</tspan></text>
<line x1="308.4" y1="183.1" x2="288.09" y2="191.04" stroke="#000" stroke-width="0.55"/>
<polygon points="284.6,192.4 288.57,188.81 288.09,191.04 289.95,192.35" fill="#000"/>
<text x="313.5" y="196" fill="#262626" style="text-rendering:optimizeSpeed"><tspan font-size="6.75" dy="0">C</tspan><tspan font-size="5.0" dy="3.2" stroke="#262626" stroke-width="0.2">8</tspan><tspan font-size="6.75" dy="-3.2">H</tspan><tspan font-size="5.0" dy="3.2" stroke="#262626" stroke-width="0.2">12</tspan><tspan font-size="6.75" dy="-3.2">O</tspan><tspan font-size="5.0" dy="3.2" stroke="#262626" stroke-width="0.2">5</tspan><tspan font-size="6.75" dy="-3.2">I</tspan><tspan font-size="5.0" dy="-3.4" stroke="#262626" stroke-width="0.2">-</tspan></text>
<line x1="312.6" y1="193.8" x2="299.01" y2="191.68" stroke="#000" stroke-width="0.55"/>
<polygon points="295.3,191.1 300.53,189.99 299.01,191.68 299.95,193.75" fill="#000"/>
<line x1="340.12" y1="271.8" x2="340.12" y2="271.1" stroke="#7E2F8E" stroke-width="0.8"/>
<line x1="261.99" y1="271.8" x2="261.99" y2="270.55" stroke="#7E2F8E" stroke-width="0.8"/>
<line x1="306.3" y1="271.8" x2="306.3" y2="271.33" stroke="#7E2F8E" stroke-width="0.8"/>
<line x1="224.4" y1="271.8" x2="224.4" y2="271.35" stroke="#7E2F8E" stroke-width="0.8"/>
<line x1="330.96" y1="271.8" x2="330.96" y2="270.69" stroke="#7E2F8E" stroke-width="0.8"/>
<line x1="227.03" y1="271.8" x2="227.03" y2="270.67" stroke="#7E2F8E" stroke-width="0.8"/>
<line x1="341.3" y1="271.8" x2="341.3" y2="270.84" stroke="#7E2F8E" stroke-width="0.8"/>
<line x1="255.01" y1="271.8" x2="255.01" y2="270.95" stroke="#7E2F8E" stroke-width="0.8"/>
<line x1="224.94" y1="271.8" x2="224.94" y2="271.49" stroke="#7E2F8E" stroke-width="0.8"/>
<line x1="340.01" y1="271.8" x2="340.01" y2="270.85" stroke="#7E2F8E" stroke-width="0.8"/>
<line x1="279.14" y1="271.8" x2="279.14" y2="270.57" stroke="#7E2F8E" stroke-width="0.8"/>
<line x1="266.43" y1="271.8" x2="266.43" y2="270.63" stroke="#7E2F8E" stroke-width="0.8"/>
<line x1="320.18" y1="271.8" x2="320.18" y2="271.29" stroke="#7E2F8E" stroke-width="0.8"/>
<line x1="241.5" y1="271.8" x2="241.5" y2="271.21" stroke="#7E2F8E" stroke-width="0.8"/>
<line x1="239.95" y1="271.8" x2="239.95" y2="270.91" stroke="#7E2F8E" stroke-width="0.8"/>
<line x1="242.53" y1="271.8" x2="242.53" y2="271.08" stroke="#7E2F8E" stroke-width="0.8"/>
<line x1="224.96" y1="271.8" x2="224.96" y2="270.59" stroke="#7E2F8E" stroke-width="0.8"/>
<line x1="255.47" y1="271.8" x2="255.47" y2="271.04" stroke="#7E2F8E" stroke-width="0.8"/>
<line x1="286.92" y1="271.8" x2="286.92" y2="270.6" stroke="#7E2F8E" stroke-width="0.8"/>
<line x1="264.63" y1="271.8" x2="264.63" y2="270.58" stroke="#7E2F8E" stroke-width="0.8"/>
<line x1="275.73" y1="271.8" x2="275.73" y2="270.97" stroke="#7E2F8E" stroke-width="0.8"/>
<line x1="278.72" y1="271.8" x2="278.72" y2="271.48" stroke="#7E2F8E" stroke-width="0.8"/>
<line x1="267.3" y1="271.8" x2="267.3" y2="271.32" stroke="#7E2F8E" stroke-width="0.8"/>
<line x1="207.54" y1="271.8" x2="207.54" y2="270.7" stroke="#7E2F8E" stroke-width="0.8"/>
<line x1="230.61" y1="271.8" x2="230.61" y2="271.03" stroke="#7E2F8E" stroke-width="0.8"/>
<line x1="306.35" y1="271.8" x2="306.35" y2="270.94" stroke="#7E2F8E" stroke-width="0.8"/>
<line x1="251.66" y1="271.8" x2="251.66" y2="270.98" stroke="#7E2F8E" stroke-width="0.8"/>
<line x1="283.1" y1="271.8" x2="283.1" y2="270.72" stroke="#7E2F8E" stroke-width="0.8"/>
<line x1="221.54" y1="271.8" x2="221.54" y2="270.94" stroke="#7E2F8E" stroke-width="0.8"/>
<line x1="241.04" y1="271.8" x2="241.04" y2="271.22" stroke="#7E2F8E" stroke-width="0.8"/>
<line x1="312.8" y1="271.8" x2="312.8" y2="270.99" stroke="#7E2F8E" stroke-width="0.8"/>
<line x1="283.96" y1="271.8" x2="283.96" y2="270.74" stroke="#7E2F8E" stroke-width="0.8"/>
<line x1="332.01" y1="271.8" x2="332.01" y2="271.06" stroke="#7E2F8E" stroke-width="0.8"/>
<line x1="290.92" y1="271.8" x2="290.92" y2="270.99" stroke="#7E2F8E" stroke-width="0.8"/>
<line x1="277.17" y1="271.8" x2="277.17" y2="270.81" stroke="#7E2F8E" stroke-width="0.8"/>
<line x1="220" y1="271.8" x2="220" y2="235.5" stroke="#7E2F8E" stroke-width="0.9"/>
<line x1="229.3" y1="271.8" x2="229.3" y2="266.7" stroke="#7E2F8E" stroke-width="0.9"/>
<line x1="231.2" y1="271.8" x2="231.2" y2="270" stroke="#7E2F8E" stroke-width="0.9"/>
<line x1="233.5" y1="271.8" x2="233.5" y2="270.3" stroke="#7E2F8E" stroke-width="0.9"/>
<line x1="237.2" y1="271.8" x2="237.2" y2="270.3" stroke="#7E2F8E" stroke-width="0.9"/>
<line x1="246.7" y1="271.8" x2="246.7" y2="267" stroke="#7E2F8E" stroke-width="0.9"/>
<line x1="247.7" y1="271.8" x2="247.7" y2="268.5" stroke="#7E2F8E" stroke-width="0.9"/>
<line x1="254.5" y1="271.8" x2="254.5" y2="267.3" stroke="#7E2F8E" stroke-width="0.9"/>
<line x1="256.7" y1="271.8" x2="256.7" y2="267.3" stroke="#7E2F8E" stroke-width="0.9"/>
<line x1="257.8" y1="271.8" x2="257.8" y2="268.5" stroke="#7E2F8E" stroke-width="0.9"/>
<line x1="264.2" y1="271.8" x2="264.2" y2="269.2" stroke="#7E2F8E" stroke-width="0.9"/>
<line x1="266" y1="271.8" x2="266" y2="269.2" stroke="#7E2F8E" stroke-width="0.9"/>
<line x1="272.7" y1="271.8" x2="272.7" y2="270.5" stroke="#7E2F8E" stroke-width="0.9"/>
<line x1="281.2" y1="271.8" x2="281.2" y2="270.5" stroke="#7E2F8E" stroke-width="0.9"/>
<line x1="290.5" y1="271.8" x2="290.5" y2="269.5" stroke="#7E2F8E" stroke-width="0.9"/>
<line x1="296" y1="271.8" x2="296" y2="270.8" stroke="#7E2F8E" stroke-width="0.9"/>
<line x1="305" y1="271.8" x2="305" y2="271" stroke="#7E2F8E" stroke-width="0.9"/>
<line x1="218" y1="271.8" x2="218" y2="273.8" stroke="#262626" stroke-width="1"/>
<line x1="218" y1="223.8" x2="218" y2="221.8" stroke="#262626" stroke-width="1"/>
<line x1="249.9" y1="271.8" x2="249.9" y2="273.8" stroke="#262626" stroke-width="1"/>
<line x1="249.9" y1="223.8" x2="249.9" y2="221.8" stroke="#262626" stroke-width="1"/>
<line x1="281.8" y1="271.8" x2="281.8" y2="273.8" stroke="#262626" stroke-width="1"/>
<line x1="281.8" y1="223.8" x2="281.8" y2="221.8" stroke="#262626" stroke-width="1"/>
<line x1="313.6" y1="271.8" x2="313.6" y2="273.8" stroke="#262626" stroke-width="1"/>
<line x1="313.6" y1="223.8" x2="313.6" y2="221.8" stroke="#262626" stroke-width="1"/>
<line x1="345.5" y1="271.8" x2="345.5" y2="273.8" stroke="#262626" stroke-width="1"/>
<line x1="345.5" y1="223.8" x2="345.5" y2="221.8" stroke="#262626" stroke-width="1"/>
<line x1="205.6" y1="271.8" x2="203.6" y2="271.8" stroke="#262626" stroke-width="1"/>
<line x1="345" y1="271.8" x2="347" y2="271.8" stroke="#262626" stroke-width="1"/>
<line x1="205.6" y1="255.8" x2="203.6" y2="255.8" stroke="#262626" stroke-width="1"/>
<line x1="345" y1="255.8" x2="347" y2="255.8" stroke="#262626" stroke-width="1"/>
<line x1="205.6" y1="239.8" x2="203.6" y2="239.8" stroke="#262626" stroke-width="1"/>
<line x1="345" y1="239.8" x2="347" y2="239.8" stroke="#262626" stroke-width="1"/>
<line x1="205.6" y1="223.8" x2="203.6" y2="223.8" stroke="#262626" stroke-width="1"/>
<line x1="345" y1="223.8" x2="347" y2="223.8" stroke="#262626" stroke-width="1"/>
<rect x="205.6" y="223.8" width="139.4" height="48" fill="none" stroke="#262626" stroke-width="1"/>
<text transform="translate(202.5,276) scale(1,1.05)" font-size="9.2" text-anchor="end" fill="#262626" >0</text>
<text transform="translate(202.5,260) scale(1,1.05)" font-size="9.2" text-anchor="end" fill="#262626" >0.1</text>
<text transform="translate(202.5,244) scale(1,1.05)" font-size="9.2" text-anchor="end" fill="#262626" >0.2</text>
<text transform="translate(202.5,228) scale(1,1.05)" font-size="9.2" text-anchor="end" fill="#262626" >0.3</text>
<text transform="translate(275.3,217.7) scale(1,1.08)" font-size="9.2" text-anchor="middle" fill="#262626">Day-aged-ELVOA</text>
<text transform="translate(343.2,221.7) scale(1,1.04)" font-size="9.5" text-anchor="end" fill="#262626" >(d2)</text>
<text x="236.5" y="232.5" fill="#262626" style="text-rendering:optimizeSpeed"><tspan font-size="6.75" dy="0">C</tspan><tspan font-size="5.0" dy="3.2" stroke="#262626" stroke-width="0.2">2</tspan><tspan font-size="6.75" dy="-3.2">H</tspan><tspan font-size="5.0" dy="3.2" stroke="#262626" stroke-width="0.2">4</tspan><tspan font-size="6.75" dy="-3.2">O</tspan><tspan font-size="5.0" dy="3.2" stroke="#262626" stroke-width="0.2">3</tspan><tspan font-size="6.75" dy="-3.2">I</tspan><tspan font-size="5.0" dy="-3.4" stroke="#262626" stroke-width="0.2">-</tspan></text>
<line x1="233.2" y1="231" x2="225.29" y2="234.12" stroke="#000" stroke-width="0.55"/>
<polygon points="221.8,235.5 225.75,231.9 225.29,234.12 227.15,235.43" fill="#000"/>
<text x="223" y="249.8" fill="#262626" style="text-rendering:optimizeSpeed"><tspan font-size="6.75" dy="0">C</tspan><tspan font-size="5.0" dy="3.2" stroke="#262626" stroke-width="0.2">3</tspan><tspan font-size="6.75" dy="-3.2">H</tspan><tspan font-size="5.0" dy="3.2" stroke="#262626" stroke-width="0.2">6</tspan><tspan font-size="6.75" dy="-3.2">O</tspan><tspan font-size="5.0" dy="3.2" stroke="#262626" stroke-width="0.2">3</tspan><tspan font-size="6.75" dy="-3.2">I</tspan><tspan font-size="5.0" dy="-3.4" stroke="#262626" stroke-width="0.2">-</tspan></text>
<line x1="233.2" y1="253.5" x2="230.89" y2="260.44" stroke="#000" stroke-width="0.55"/>
<polygon points="229.7,264 229.48,258.66 230.89,260.44 233.08,259.86" fill="#000"/>
<text x="256" y="243.8" fill="#262626" style="text-rendering:optimizeSpeed"><tspan font-size="6.75" dy="0">C</tspan><tspan font-size="5.0" dy="3.2" stroke="#262626" stroke-width="0.2">4</tspan><tspan font-size="6.75" dy="-3.2">H</tspan><tspan font-size="5.0" dy="3.2" stroke="#262626" stroke-width="0.2">6</tspan><tspan font-size="6.75" dy="-3.2">O</tspan><tspan font-size="5.0" dy="3.2" stroke="#262626" stroke-width="0.2">4</tspan><tspan font-size="6.75" dy="-3.2">I</tspan><tspan font-size="5.0" dy="-3.4" stroke="#262626" stroke-width="0.2">-</tspan></text>
<line x1="259" y1="249.7" x2="250.55" y2="262.66" stroke="#000" stroke-width="0.55"/>
<polygon points="248.5,265.8 249.64,260.57 250.55,262.66 252.82,262.65" fill="#000"/>
<text x="288.8" y="234.1" fill="#262626" style="text-rendering:optimizeSpeed"><tspan font-size="6.75" dy="0">C</tspan><tspan font-size="5.0" dy="3.2" stroke="#262626" stroke-width="0.2">5</tspan><tspan font-size="6.75" dy="-3.2">H</tspan><tspan font-size="5.0" dy="3.2" stroke="#262626" stroke-width="0.2">6</tspan><tspan font-size="6.75" dy="-3.2">O</tspan><tspan font-size="5.0" dy="3.2" stroke="#262626" stroke-width="0.2">4</tspan><tspan font-size="6.75" dy="-3.2">I</tspan><tspan font-size="5.0" dy="-3.4" stroke="#262626" stroke-width="0.2">-</tspan></text>
<line x1="288.8" y1="239" x2="260.34" y2="263.55" stroke="#000" stroke-width="0.55"/>
<polygon points="257.5,266 260.04,261.3 260.34,263.55 262.53,264.17" fill="#000"/>
<text x="306.7" y="243.5" fill="#262626" style="text-rendering:optimizeSpeed"><tspan font-size="6.75" dy="0">C</tspan><tspan font-size="5.0" dy="3.2" stroke="#262626" stroke-width="0.2">4</tspan><tspan font-size="6.75" dy="-3.2">H</tspan><tspan font-size="5.0" dy="3.2" stroke="#262626" stroke-width="0.2">6</tspan><tspan font-size="6.75" dy="-3.2">O</tspan><tspan font-size="5.0" dy="3.2" stroke="#262626" stroke-width="0.2">5</tspan><tspan font-size="6.75" dy="-3.2">I</tspan><tspan font-size="5.0" dy="-3.4" stroke="#262626" stroke-width="0.2">-</tspan></text>
<line x1="301.6" y1="245.5" x2="262.86" y2="264.83" stroke="#000" stroke-width="0.55"/>
<polygon points="259.5,266.5 263.13,262.57 262.86,264.83 264.82,265.97" fill="#000"/>
<text x="304.1" y="257.1" fill="#262626" style="text-rendering:optimizeSpeed"><tspan font-size="6.75" dy="0">C</tspan><tspan font-size="5.0" dy="3.2" stroke="#262626" stroke-width="0.2">8</tspan><tspan font-size="6.75" dy="-3.2">H</tspan><tspan font-size="5.0" dy="3.2" stroke="#262626" stroke-width="0.2">10</tspan><tspan font-size="6.75" dy="-3.2">O</tspan><tspan font-size="5.0" dy="3.2" stroke="#262626" stroke-width="0.2">5</tspan><tspan font-size="6.75" dy="-3.2">I</tspan><tspan font-size="5.0" dy="-3.4" stroke="#262626" stroke-width="0.2">-</tspan></text>
<line x1="302.1" y1="260.3" x2="295.42" y2="264.28" stroke="#000" stroke-width="0.55"/>
<polygon points="292.2,266.2 295.52,262.01 295.42,264.28 297.47,265.27" fill="#000"/>
<line x1="268.97" y1="339.4" x2="268.97" y2="338.57" stroke="#77AC30" stroke-width="0.8"/>
<line x1="272.49" y1="339.4" x2="272.49" y2="338.16" stroke="#77AC30" stroke-width="0.8"/>
<line x1="302.79" y1="339.4" x2="302.79" y2="338.22" stroke="#77AC30" stroke-width="0.8"/>
<line x1="336.08" y1="339.4" x2="336.08" y2="338.84" stroke="#77AC30" stroke-width="0.8"/>
<line x1="283.65" y1="339.4" x2="283.65" y2="338.16" stroke="#77AC30" stroke-width="0.8"/>
<line x1="322.08" y1="339.4" x2="322.08" y2="338.96" stroke="#77AC30" stroke-width="0.8"/>
<line x1="223.66" y1="339.4" x2="223.66" y2="338.66" stroke="#77AC30" stroke-width="0.8"/>
<line x1="216.94" y1="339.4" x2="216.94" y2="338.86" stroke="#77AC30" stroke-width="0.8"/>
<line x1="217.02" y1="339.4" x2="217.02" y2="338.43" stroke="#77AC30" stroke-width="0.8"/>
<line x1="314.4" y1="339.4" x2="314.4" y2="338.2" stroke="#77AC30" stroke-width="0.8"/>
<line x1="228.16" y1="339.4" x2="228.16" y2="338.38" stroke="#77AC30" stroke-width="0.8"/>
<line x1="297.46" y1="339.4" x2="297.46" y2="338.96" stroke="#77AC30" stroke-width="0.8"/>
<line x1="327.95" y1="339.4" x2="327.95" y2="338.13" stroke="#77AC30" stroke-width="0.8"/>
<line x1="237.08" y1="339.4" x2="237.08" y2="338.15" stroke="#77AC30" stroke-width="0.8"/>
<line x1="261.56" y1="339.4" x2="261.56" y2="338.61" stroke="#77AC30" stroke-width="0.8"/>
<line x1="342.61" y1="339.4" x2="342.61" y2="338.27" stroke="#77AC30" stroke-width="0.8"/>
<line x1="229.12" y1="339.4" x2="229.12" y2="338.67" stroke="#77AC30" stroke-width="0.8"/>
<line x1="277.64" y1="339.4" x2="277.64" y2="338.76" stroke="#77AC30" stroke-width="0.8"/>
<line x1="233.82" y1="339.4" x2="233.82" y2="338.78" stroke="#77AC30" stroke-width="0.8"/>
<line x1="305.93" y1="339.4" x2="305.93" y2="339.08" stroke="#77AC30" stroke-width="0.8"/>
<line x1="282.9" y1="339.4" x2="282.9" y2="338.66" stroke="#77AC30" stroke-width="0.8"/>
<line x1="209.48" y1="339.4" x2="209.48" y2="338.77" stroke="#77AC30" stroke-width="0.8"/>
<line x1="292.48" y1="339.4" x2="292.48" y2="338.59" stroke="#77AC30" stroke-width="0.8"/>
<line x1="215.81" y1="339.4" x2="215.81" y2="338.11" stroke="#77AC30" stroke-width="0.8"/>
<line x1="315.01" y1="339.4" x2="315.01" y2="338.13" stroke="#77AC30" stroke-width="0.8"/>
<line x1="221.35" y1="339.4" x2="221.35" y2="338.83" stroke="#77AC30" stroke-width="0.8"/>
<line x1="212.42" y1="339.4" x2="212.42" y2="338.32" stroke="#77AC30" stroke-width="0.8"/>
<line x1="244.05" y1="339.4" x2="244.05" y2="338.97" stroke="#77AC30" stroke-width="0.8"/>
<line x1="264.85" y1="339.4" x2="264.85" y2="338.19" stroke="#77AC30" stroke-width="0.8"/>
<line x1="319.2" y1="339.4" x2="319.2" y2="338.84" stroke="#77AC30" stroke-width="0.8"/>
<line x1="227.46" y1="339.4" x2="227.46" y2="338.18" stroke="#77AC30" stroke-width="0.8"/>
<line x1="285.17" y1="339.4" x2="285.17" y2="338.4" stroke="#77AC30" stroke-width="0.8"/>
<line x1="219.26" y1="339.4" x2="219.26" y2="339.04" stroke="#77AC30" stroke-width="0.8"/>
<line x1="301.28" y1="339.4" x2="301.28" y2="338.67" stroke="#77AC30" stroke-width="0.8"/>
<line x1="216.92" y1="339.4" x2="216.92" y2="338.16" stroke="#77AC30" stroke-width="0.8"/>
<line x1="237.2" y1="339.4" x2="237.2" y2="337.9" stroke="#77AC30" stroke-width="0.9"/>
<line x1="247.3" y1="339.4" x2="247.3" y2="299.7" stroke="#77AC30" stroke-width="0.9"/>
<line x1="253.3" y1="339.4" x2="253.3" y2="335" stroke="#77AC30" stroke-width="0.9"/>
<line x1="254.5" y1="339.4" x2="254.5" y2="326" stroke="#77AC30" stroke-width="0.9"/>
<line x1="256" y1="339.4" x2="256" y2="333.5" stroke="#77AC30" stroke-width="0.9"/>
<line x1="257.2" y1="339.4" x2="257.2" y2="329.7" stroke="#77AC30" stroke-width="0.9"/>
<line x1="260.5" y1="339.4" x2="260.5" y2="336.2" stroke="#77AC30" stroke-width="0.9"/>
<line x1="263.5" y1="339.4" x2="263.5" y2="333.5" stroke="#77AC30" stroke-width="0.9"/>
<line x1="264.7" y1="339.4" x2="264.7" y2="332" stroke="#77AC30" stroke-width="0.9"/>
<line x1="266" y1="339.4" x2="266" y2="324.2" stroke="#77AC30" stroke-width="0.9"/>
<line x1="272.5" y1="339.4" x2="272.5" y2="335" stroke="#77AC30" stroke-width="0.9"/>
<line x1="274" y1="339.4" x2="274" y2="332" stroke="#77AC30" stroke-width="0.9"/>
<line x1="274.4" y1="339.4" x2="274.4" y2="329.1" stroke="#77AC30" stroke-width="0.9"/>
<line x1="281.2" y1="339.4" x2="281.2" y2="335" stroke="#77AC30" stroke-width="0.9"/>
<line x1="282" y1="339.4" x2="282" y2="330.8" stroke="#77AC30" stroke-width="0.9"/>
<line x1="290.5" y1="339.4" x2="290.5" y2="335" stroke="#77AC30" stroke-width="0.9"/>
<line x1="291.4" y1="339.4" x2="291.4" y2="330" stroke="#77AC30" stroke-width="0.9"/>
<line x1="300.7" y1="339.4" x2="300.7" y2="336.3" stroke="#77AC30" stroke-width="0.9"/>
<line x1="310" y1="339.4" x2="310" y2="338.5" stroke="#77AC30" stroke-width="0.9"/>
<line x1="319.4" y1="339.4" x2="319.4" y2="338.5" stroke="#77AC30" stroke-width="0.9"/>
<line x1="218" y1="339.4" x2="218" y2="341.4" stroke="#262626" stroke-width="1"/>
<line x1="218" y1="291.5" x2="218" y2="289.5" stroke="#262626" stroke-width="1"/>
<line x1="249.9" y1="339.4" x2="249.9" y2="341.4" stroke="#262626" stroke-width="1"/>
<line x1="249.9" y1="291.5" x2="249.9" y2="289.5" stroke="#262626" stroke-width="1"/>
<line x1="281.8" y1="339.4" x2="281.8" y2="341.4" stroke="#262626" stroke-width="1"/>
<line x1="281.8" y1="291.5" x2="281.8" y2="289.5" stroke="#262626" stroke-width="1"/>
<line x1="313.6" y1="339.4" x2="313.6" y2="341.4" stroke="#262626" stroke-width="1"/>
<line x1="313.6" y1="291.5" x2="313.6" y2="289.5" stroke="#262626" stroke-width="1"/>
<line x1="345.5" y1="339.4" x2="345.5" y2="341.4" stroke="#262626" stroke-width="1"/>
<line x1="345.5" y1="291.5" x2="345.5" y2="289.5" stroke="#262626" stroke-width="1"/>
<line x1="205.6" y1="339.4" x2="203.6" y2="339.4" stroke="#262626" stroke-width="1"/>
<line x1="345" y1="339.4" x2="347" y2="339.4" stroke="#262626" stroke-width="1"/>
<line x1="205.6" y1="323.43" x2="203.6" y2="323.43" stroke="#262626" stroke-width="1"/>
<line x1="345" y1="323.43" x2="347" y2="323.43" stroke="#262626" stroke-width="1"/>
<line x1="205.6" y1="307.47" x2="203.6" y2="307.47" stroke="#262626" stroke-width="1"/>
<line x1="345" y1="307.47" x2="347" y2="307.47" stroke="#262626" stroke-width="1"/>
<line x1="205.6" y1="291.5" x2="203.6" y2="291.5" stroke="#262626" stroke-width="1"/>
<line x1="345" y1="291.5" x2="347" y2="291.5" stroke="#262626" stroke-width="1"/>
<rect x="205.6" y="291.5" width="139.4" height="47.9" fill="none" stroke="#262626" stroke-width="1"/>
<text transform="translate(202.5,343.6) scale(1,1.05)" font-size="9.2" text-anchor="end" fill="#262626" >0</text>
<text transform="translate(202.5,327.63) scale(1,1.05)" font-size="9.2" text-anchor="end" fill="#262626" >0.05</text>
<text transform="translate(202.5,311.67) scale(1,1.05)" font-size="9.2" text-anchor="end" fill="#262626" >0.1</text>
<text transform="translate(202.5,295.7) scale(1,1.05)" font-size="9.2" text-anchor="end" fill="#262626" >0.15</text>
<text transform="translate(278.3,287) scale(1,1.08)" font-size="9.2" text-anchor="middle" fill="#262626">Day-urban-LVOA</text>
<text transform="translate(342.5,288.5) scale(1,1.04)" font-size="9.5" text-anchor="end" fill="#262626" >(e2)</text>
<text x="209.5" y="304.3" fill="#262626" style="text-rendering:optimizeSpeed"><tspan font-size="6.75" dy="0">C</tspan><tspan font-size="5.0" dy="3.2" stroke="#262626" stroke-width="0.2">4</tspan><tspan font-size="6.75" dy="-3.2">H</tspan><tspan font-size="5.0" dy="3.2" stroke="#262626" stroke-width="0.2">6</tspan><tspan font-size="6.75" dy="-3.2">O</tspan><tspan font-size="5.0" dy="3.2" stroke="#262626" stroke-width="0.2">4</tspan><tspan font-size="6.75" dy="-3.2">I</tspan><tspan font-size="5.0" dy="-3.4" stroke="#262626" stroke-width="0.2">-</tspan></text>
<line x1="235.7" y1="297.2" x2="241.95" y2="299.3" stroke="#000" stroke-width="0.55"/>
<polygon points="245.5,300.5 240.16,300.71 241.95,299.3 241.37,297.1" fill="#000"/>
<text x="253" y="300.5" fill="#262626" style="text-rendering:optimizeSpeed"><tspan font-size="6.75" dy="0">C</tspan><tspan font-size="5.0" dy="3.2" stroke="#262626" stroke-width="0.2">5</tspan><tspan font-size="6.75" dy="-3.2">H</tspan><tspan font-size="5.0" dy="3.2" stroke="#262626" stroke-width="0.2">6</tspan><tspan font-size="6.75" dy="-3.2">O</tspan><tspan font-size="5.0" dy="3.2" stroke="#262626" stroke-width="0.2">4</tspan><tspan font-size="6.75" dy="-3.2">I</tspan><tspan font-size="5.0" dy="-3.4" stroke="#262626" stroke-width="0.2">-</tspan></text>
<line x1="262.7" y1="304.2" x2="256.99" y2="319.78" stroke="#000" stroke-width="0.55"/>
<polygon points="255.7,323.3 255.64,317.95 256.99,319.78 259.2,319.26" fill="#000"/>
<text x="282.9" y="303" fill="#262626" style="text-rendering:optimizeSpeed"><tspan font-size="6.75" dy="0">C</tspan><tspan font-size="5.0" dy="3.2" stroke="#262626" stroke-width="0.2">5</tspan><tspan font-size="6.75" dy="-3.2">H</tspan><tspan font-size="5.0" dy="3.2" stroke="#262626" stroke-width="0.2">8</tspan><tspan font-size="6.75" dy="-3.2">O</tspan><tspan font-size="5.0" dy="3.2" stroke="#262626" stroke-width="0.2">5</tspan><tspan font-size="6.75" dy="-3.2">I</tspan><tspan font-size="5.0" dy="-3.4" stroke="#262626" stroke-width="0.2">-</tspan></text>
<line x1="282.9" y1="307" x2="271.87" y2="318.76" stroke="#000" stroke-width="0.55"/>
<polygon points="269.3,321.5 271.33,316.55 271.87,318.76 274.11,319.15" fill="#000"/>
<text x="311.8" y="310.6" fill="#262626" style="text-rendering:optimizeSpeed"><tspan font-size="6.75" dy="0">C</tspan><tspan font-size="5.0" dy="3.2" stroke="#262626" stroke-width="0.2">6</tspan><tspan font-size="6.75" dy="-3.2">H</tspan><tspan font-size="5.0" dy="3.2" stroke="#262626" stroke-width="0.2">10</tspan><tspan font-size="6.75" dy="-3.2">O</tspan><tspan font-size="5.0" dy="3.2" stroke="#262626" stroke-width="0.2">5</tspan><tspan font-size="6.75" dy="-3.2">I</tspan><tspan font-size="5.0" dy="-3.4" stroke="#262626" stroke-width="0.2">-</tspan></text>
<line x1="308.4" y1="311.3" x2="281.12" y2="325.65" stroke="#000" stroke-width="0.55"/>
<polygon points="277.8,327.4 281.34,323.39 281.12,325.65 283.11,326.75" fill="#000"/>
<text x="312.6" y="320.8" fill="#262626" style="text-rendering:optimizeSpeed"><tspan font-size="6.75" dy="0">C</tspan><tspan font-size="5.0" dy="3.2" stroke="#262626" stroke-width="0.2">7</tspan><tspan font-size="6.75" dy="-3.2">H</tspan><tspan font-size="5.0" dy="3.2" stroke="#262626" stroke-width="0.2">10</tspan><tspan font-size="6.75" dy="-3.2">O</tspan><tspan font-size="5.0" dy="3.2" stroke="#262626" stroke-width="0.2">5</tspan><tspan font-size="6.75" dy="-3.2">I</tspan><tspan font-size="5.0" dy="-3.4" stroke="#262626" stroke-width="0.2">-</tspan></text>
<line x1="306.7" y1="319.8" x2="288.88" y2="326.91" stroke="#000" stroke-width="0.55"/>
<polygon points="285.4,328.3 289.34,324.68 288.88,326.91 290.75,328.21" fill="#000"/>
<text x="314.3" y="332.7" fill="#262626" style="text-rendering:optimizeSpeed"><tspan font-size="6.75" dy="0">C</tspan><tspan font-size="5.0" dy="3.2" stroke="#262626" stroke-width="0.2">8</tspan><tspan font-size="6.75" dy="-3.2">H</tspan><tspan font-size="5.0" dy="3.2" stroke="#262626" stroke-width="0.2">12</tspan><tspan font-size="6.75" dy="-3.2">O</tspan><tspan font-size="5.0" dy="3.2" stroke="#262626" stroke-width="0.2">5</tspan><tspan font-size="6.75" dy="-3.2">I</tspan><tspan font-size="5.0" dy="-3.4" stroke="#262626" stroke-width="0.2">-</tspan></text>
<line x1="313.5" y1="330.8" x2="299.03" y2="329.21" stroke="#000" stroke-width="0.55"/>
<polygon points="295.3,328.8 300.48,327.46 299.03,329.21 300.06,331.23" fill="#000"/>
<line x1="293.92" y1="407" x2="293.92" y2="405.9" stroke="#4DBEEE" stroke-width="0.8"/>
<line x1="218.47" y1="407" x2="218.47" y2="405.84" stroke="#4DBEEE" stroke-width="0.8"/>
<line x1="216.13" y1="407" x2="216.13" y2="405.84" stroke="#4DBEEE" stroke-width="0.8"/>
<line x1="269.17" y1="407" x2="269.17" y2="406.36" stroke="#4DBEEE" stroke-width="0.8"/>
<line x1="282.77" y1="407" x2="282.77" y2="405.77" stroke="#4DBEEE" stroke-width="0.8"/>
<line x1="243.7" y1="407" x2="243.7" y2="406.57" stroke="#4DBEEE" stroke-width="0.8"/>
<line x1="279.19" y1="407" x2="279.19" y2="406.46" stroke="#4DBEEE" stroke-width="0.8"/>
<line x1="221.99" y1="407" x2="221.99" y2="406.54" stroke="#4DBEEE" stroke-width="0.8"/>
<line x1="213.9" y1="407" x2="213.9" y2="406.5" stroke="#4DBEEE" stroke-width="0.8"/>
<line x1="249.74" y1="407" x2="249.74" y2="406.39" stroke="#4DBEEE" stroke-width="0.8"/>
<line x1="311.05" y1="407" x2="311.05" y2="406.41" stroke="#4DBEEE" stroke-width="0.8"/>
<line x1="275.51" y1="407" x2="275.51" y2="406.52" stroke="#4DBEEE" stroke-width="0.8"/>
<line x1="254.54" y1="407" x2="254.54" y2="406.68" stroke="#4DBEEE" stroke-width="0.8"/>
<line x1="241.31" y1="407" x2="241.31" y2="406.68" stroke="#4DBEEE" stroke-width="0.8"/>
<line x1="307.43" y1="407" x2="307.43" y2="406.15" stroke="#4DBEEE" stroke-width="0.8"/>
<line x1="232.96" y1="407" x2="232.96" y2="406.23" stroke="#4DBEEE" stroke-width="0.8"/>
<line x1="335.05" y1="407" x2="335.05" y2="406.59" stroke="#4DBEEE" stroke-width="0.8"/>
<line x1="319.19" y1="407" x2="319.19" y2="406.27" stroke="#4DBEEE" stroke-width="0.8"/>
<line x1="274.82" y1="407" x2="274.82" y2="405.87" stroke="#4DBEEE" stroke-width="0.8"/>
<line x1="260.85" y1="407" x2="260.85" y2="406.19" stroke="#4DBEEE" stroke-width="0.8"/>
<line x1="301.22" y1="407" x2="301.22" y2="405.72" stroke="#4DBEEE" stroke-width="0.8"/>
<line x1="253.95" y1="407" x2="253.95" y2="405.87" stroke="#4DBEEE" stroke-width="0.8"/>
<line x1="303.82" y1="407" x2="303.82" y2="406.06" stroke="#4DBEEE" stroke-width="0.8"/>
<line x1="262.44" y1="407" x2="262.44" y2="406.35" stroke="#4DBEEE" stroke-width="0.8"/>
<line x1="214.45" y1="407" x2="214.45" y2="406.57" stroke="#4DBEEE" stroke-width="0.8"/>
<line x1="216.69" y1="407" x2="216.69" y2="405.96" stroke="#4DBEEE" stroke-width="0.8"/>
<line x1="242.02" y1="407" x2="242.02" y2="406.54" stroke="#4DBEEE" stroke-width="0.8"/>
<line x1="218.57" y1="407" x2="218.57" y2="405.86" stroke="#4DBEEE" stroke-width="0.8"/>
<line x1="326.26" y1="407" x2="326.26" y2="406.03" stroke="#4DBEEE" stroke-width="0.8"/>
<line x1="245.62" y1="407" x2="245.62" y2="406.46" stroke="#4DBEEE" stroke-width="0.8"/>
<line x1="247.15" y1="407" x2="247.15" y2="406.24" stroke="#4DBEEE" stroke-width="0.8"/>
<line x1="228.58" y1="407" x2="228.58" y2="406.25" stroke="#4DBEEE" stroke-width="0.8"/>
<line x1="243.06" y1="407" x2="243.06" y2="405.74" stroke="#4DBEEE" stroke-width="0.8"/>
<line x1="340.25" y1="407" x2="340.25" y2="406.15" stroke="#4DBEEE" stroke-width="0.8"/>
<line x1="240.49" y1="407" x2="240.49" y2="405.73" stroke="#4DBEEE" stroke-width="0.8"/>
<line x1="219.2" y1="407" x2="219.2" y2="403.2" stroke="#4DBEEE" stroke-width="0.9"/>
<line x1="223.3" y1="407" x2="223.3" y2="400.2" stroke="#4DBEEE" stroke-width="0.9"/>
<line x1="229.3" y1="407" x2="229.3" y2="401.2" stroke="#4DBEEE" stroke-width="0.9"/>
<line x1="233.2" y1="407" x2="233.2" y2="395.2" stroke="#4DBEEE" stroke-width="0.9"/>
<line x1="236.8" y1="407" x2="236.8" y2="402" stroke="#4DBEEE" stroke-width="0.9"/>
<line x1="243.7" y1="407" x2="243.7" y2="404.7" stroke="#4DBEEE" stroke-width="0.9"/>
<line x1="245.5" y1="407" x2="245.5" y2="402" stroke="#4DBEEE" stroke-width="0.9"/>
<line x1="247" y1="407" x2="247" y2="402.3" stroke="#4DBEEE" stroke-width="0.9"/>
<line x1="253.3" y1="407" x2="253.3" y2="396.3" stroke="#4DBEEE" stroke-width="0.9"/>
<line x1="254.8" y1="407" x2="254.8" y2="376.2" stroke="#4DBEEE" stroke-width="0.9"/>
<line x1="256" y1="407" x2="256" y2="399.7" stroke="#4DBEEE" stroke-width="0.9"/>
<line x1="257.5" y1="407" x2="257.5" y2="387.7" stroke="#4DBEEE" stroke-width="0.9"/>
<line x1="262.7" y1="407" x2="262.7" y2="401.2" stroke="#4DBEEE" stroke-width="0.9"/>
<line x1="263.9" y1="407" x2="263.9" y2="382.8" stroke="#4DBEEE" stroke-width="0.9"/>
<line x1="265" y1="407" x2="265" y2="393" stroke="#4DBEEE" stroke-width="0.9"/>
<line x1="266.2" y1="407" x2="266.2" y2="391.2" stroke="#4DBEEE" stroke-width="0.9"/>
<line x1="269.5" y1="407" x2="269.5" y2="404.2" stroke="#4DBEEE" stroke-width="0.9"/>
<line x1="271.8" y1="407" x2="271.8" y2="397.5" stroke="#4DBEEE" stroke-width="0.9"/>
<line x1="273.2" y1="407" x2="273.2" y2="396" stroke="#4DBEEE" stroke-width="0.9"/>
<line x1="275.5" y1="407" x2="275.5" y2="396.3" stroke="#4DBEEE" stroke-width="0.9"/>
<line x1="281.2" y1="407" x2="281.2" y2="398" stroke="#4DBEEE" stroke-width="0.9"/>
<line x1="281.5" y1="407" x2="281.5" y2="388.5" stroke="#4DBEEE" stroke-width="0.9"/>
<line x1="282.9" y1="407" x2="282.9" y2="399.5" stroke="#4DBEEE" stroke-width="0.9"/>
<line x1="288.8" y1="407" x2="288.8" y2="399.5" stroke="#4DBEEE" stroke-width="0.9"/>
<line x1="290.5" y1="407" x2="290.5" y2="373.7" stroke="#4DBEEE" stroke-width="0.9"/>
<line x1="291.4" y1="407" x2="291.4" y2="399.5" stroke="#4DBEEE" stroke-width="0.9"/>
<line x1="294.3" y1="407" x2="294.3" y2="394.8" stroke="#4DBEEE" stroke-width="0.9"/>
<line x1="298.2" y1="407" x2="298.2" y2="402.9" stroke="#4DBEEE" stroke-width="0.9"/>
<line x1="299.9" y1="407" x2="299.9" y2="403.3" stroke="#4DBEEE" stroke-width="0.9"/>
<line x1="307.5" y1="407" x2="307.5" y2="405.5" stroke="#4DBEEE" stroke-width="0.9"/>
<line x1="316" y1="407" x2="316" y2="406" stroke="#4DBEEE" stroke-width="0.9"/>
<line x1="325" y1="407" x2="325" y2="406" stroke="#4DBEEE" stroke-width="0.9"/>
<line x1="332" y1="407" x2="332" y2="406.2" stroke="#4DBEEE" stroke-width="0.9"/>
<line x1="218" y1="407" x2="218" y2="409" stroke="#262626" stroke-width="1"/>
<line x1="218" y1="358.8" x2="218" y2="356.8" stroke="#262626" stroke-width="1"/>
<line x1="249.9" y1="407" x2="249.9" y2="409" stroke="#262626" stroke-width="1"/>
<line x1="249.9" y1="358.8" x2="249.9" y2="356.8" stroke="#262626" stroke-width="1"/>
<line x1="281.8" y1="407" x2="281.8" y2="409" stroke="#262626" stroke-width="1"/>
<line x1="281.8" y1="358.8" x2="281.8" y2="356.8" stroke="#262626" stroke-width="1"/>
<line x1="313.6" y1="407" x2="313.6" y2="409" stroke="#262626" stroke-width="1"/>
<line x1="313.6" y1="358.8" x2="313.6" y2="356.8" stroke="#262626" stroke-width="1"/>
<line x1="345.5" y1="407" x2="345.5" y2="409" stroke="#262626" stroke-width="1"/>
<line x1="345.5" y1="358.8" x2="345.5" y2="356.8" stroke="#262626" stroke-width="1"/>
<line x1="205.6" y1="407" x2="203.6" y2="407" stroke="#262626" stroke-width="1"/>
<line x1="345" y1="407" x2="347" y2="407" stroke="#262626" stroke-width="1"/>
<line x1="205.6" y1="382.9" x2="203.6" y2="382.9" stroke="#262626" stroke-width="1"/>
<line x1="345" y1="382.9" x2="347" y2="382.9" stroke="#262626" stroke-width="1"/>
<line x1="205.6" y1="358.8" x2="203.6" y2="358.8" stroke="#262626" stroke-width="1"/>
<line x1="345" y1="358.8" x2="347" y2="358.8" stroke="#262626" stroke-width="1"/>
<rect x="205.6" y="358.8" width="139.4" height="48.2" fill="none" stroke="#262626" stroke-width="1"/>
<text transform="translate(202.5,411.2) scale(1,1.05)" font-size="9.2" text-anchor="end" fill="#262626" >0</text>
<text transform="translate(202.5,387.1) scale(1,1.05)" font-size="9.2" text-anchor="end" fill="#262626" >0.03</text>
<text transform="translate(202.5,363) scale(1,1.05)" font-size="9.2" text-anchor="end" fill="#262626" >0.06</text>
<text transform="translate(277.3,354) scale(1,1.08)" font-size="9.2" text-anchor="middle" fill="#262626">Day-urban-ELVOA</text>
<text transform="translate(339,357) scale(1,1.04)" font-size="9.5" text-anchor="end" fill="#262626" >(f2)</text>
<text x="210.2" y="370.5" fill="#262626" style="text-rendering:optimizeSpeed"><tspan font-size="6.75" dy="0">C</tspan><tspan font-size="5.0" dy="3.2" stroke="#262626" stroke-width="0.2">5</tspan><tspan font-size="6.75" dy="-3.2">H</tspan><tspan font-size="5.0" dy="3.2" stroke="#262626" stroke-width="0.2">6</tspan><tspan font-size="6.75" dy="-3.2">O</tspan><tspan font-size="5.0" dy="3.2" stroke="#262626" stroke-width="0.2">4</tspan><tspan font-size="6.75" dy="-3.2">I</tspan><tspan font-size="5.0" dy="-3.4" stroke="#262626" stroke-width="0.2">-</tspan></text>
<line x1="240.2" y1="372" x2="249.81" y2="375.82" stroke="#000" stroke-width="0.55"/>
<polygon points="253.3,377.2 247.95,377.12 249.81,375.82 249.35,373.59" fill="#000"/>
<text x="238.7" y="367.5" fill="#262626" style="text-rendering:optimizeSpeed"><tspan font-size="6.75" dy="0">C</tspan><tspan font-size="5.0" dy="3.2" stroke="#262626" stroke-width="0.2">4</tspan><tspan font-size="6.75" dy="-3.2">H</tspan><tspan font-size="5.0" dy="3.2" stroke="#262626" stroke-width="0.2">6</tspan><tspan font-size="6.75" dy="-3.2">O</tspan><tspan font-size="5.0" dy="3.2" stroke="#262626" stroke-width="0.2">5</tspan><tspan font-size="6.75" dy="-3.2">I</tspan><tspan font-size="5.0" dy="-3.4" stroke="#262626" stroke-width="0.2">-</tspan></text>
<line x1="256.7" y1="369" x2="257.55" y2="381.76" stroke="#000" stroke-width="0.55"/>
<polygon points="257.8,385.5 255.57,380.64 257.55,381.76 259.36,380.38" fill="#000"/>
<text x="267.6" y="366.6" fill="#262626" style="text-rendering:optimizeSpeed"><tspan font-size="6.75" dy="0">C</tspan><tspan font-size="5.0" dy="3.2" stroke="#262626" stroke-width="0.2">6</tspan><tspan font-size="6.75" dy="-3.2">H</tspan><tspan font-size="5.0" dy="3.2" stroke="#262626" stroke-width="0.2">8</tspan><tspan font-size="6.75" dy="-3.2">O</tspan><tspan font-size="5.0" dy="3.2" stroke="#262626" stroke-width="0.2">4</tspan><tspan font-size="6.75" dy="-3.2">I</tspan><tspan font-size="5.0" dy="-3.4" stroke="#262626" stroke-width="0.2">-</tspan></text>
<line x1="269.3" y1="370.6" x2="266.56" y2="376.59" stroke="#000" stroke-width="0.55"/>
<polygon points="265,380 265.35,374.66 266.56,376.59 268.81,376.24" fill="#000"/>
<text x="316" y="371.7" fill="#262626" style="text-rendering:optimizeSpeed"><tspan font-size="6.75" dy="0">C</tspan><tspan font-size="5.0" dy="3.2" stroke="#262626" stroke-width="0.2">8</tspan><tspan font-size="6.75" dy="-3.2">H</tspan><tspan font-size="5.0" dy="3.2" stroke="#262626" stroke-width="0.2">10</tspan><tspan font-size="6.75" dy="-3.2">O</tspan><tspan font-size="5.0" dy="3.2" stroke="#262626" stroke-width="0.2">5</tspan><tspan font-size="6.75" dy="-3.2">I</tspan><tspan font-size="5.0" dy="-3.4" stroke="#262626" stroke-width="0.2">-</tspan></text>
<line x1="311.8" y1="370.6" x2="295.92" y2="372.71" stroke="#000" stroke-width="0.55"/>
<polygon points="292.2,373.2 296.91,370.66 295.92,372.71 297.41,374.43" fill="#000"/>
<text x="311.8" y="395.5" fill="#262626" style="text-rendering:optimizeSpeed"><tspan font-size="6.75" dy="0">C</tspan><tspan font-size="5.0" dy="3.2" stroke="#262626" stroke-width="0.2">7</tspan><tspan font-size="6.75" dy="-3.2">H</tspan><tspan font-size="5.0" dy="3.2" stroke="#262626" stroke-width="0.2">8</tspan><tspan font-size="6.75" dy="-3.2">O</tspan><tspan font-size="5.0" dy="3.2" stroke="#262626" stroke-width="0.2">5</tspan><tspan font-size="6.75" dy="-3.2">I</tspan><tspan font-size="5.0" dy="-3.4" stroke="#262626" stroke-width="0.2">-</tspan></text>
<line x1="308.4" y1="392.7" x2="287.7" y2="389.14" stroke="#000" stroke-width="0.55"/>
<polygon points="284,388.5 289.25,387.48 287.7,389.14 288.61,391.22" fill="#000"/>
<line x1="249.41" y1="477" x2="249.41" y2="476.34" stroke="#A2142F" stroke-width="0.8"/>
<line x1="207.15" y1="477" x2="207.15" y2="476.32" stroke="#A2142F" stroke-width="0.8"/>
<line x1="272.03" y1="477" x2="272.03" y2="476.2" stroke="#A2142F" stroke-width="0.8"/>
<line x1="234.53" y1="477" x2="234.53" y2="476.2" stroke="#A2142F" stroke-width="0.8"/>
<line x1="207.68" y1="477" x2="207.68" y2="476.44" stroke="#A2142F" stroke-width="0.8"/>
<line x1="219.3" y1="477" x2="219.3" y2="476.3" stroke="#A2142F" stroke-width="0.8"/>
<line x1="212.71" y1="477" x2="212.71" y2="476.68" stroke="#A2142F" stroke-width="0.8"/>
<line x1="248.68" y1="477" x2="248.68" y2="476.47" stroke="#A2142F" stroke-width="0.8"/>
<line x1="287.22" y1="477" x2="287.22" y2="476.17" stroke="#A2142F" stroke-width="0.8"/>
<line x1="309.82" y1="477" x2="309.82" y2="476.04" stroke="#A2142F" stroke-width="0.8"/>
<line x1="251.5" y1="477" x2="251.5" y2="475.7" stroke="#A2142F" stroke-width="0.9"/>
<line x1="254.5" y1="477" x2="254.5" y2="474.5" stroke="#A2142F" stroke-width="0.9"/>
<line x1="256.7" y1="477" x2="256.7" y2="475.2" stroke="#A2142F" stroke-width="0.9"/>
<line x1="259" y1="477" x2="259" y2="475.2" stroke="#A2142F" stroke-width="0.9"/>
<line x1="270.2" y1="477" x2="270.2" y2="473.7" stroke="#A2142F" stroke-width="0.9"/>
<line x1="275.2" y1="477" x2="275.2" y2="438" stroke="#A2142F" stroke-width="0.9"/>
<line x1="280.3" y1="477" x2="280.3" y2="476" stroke="#A2142F" stroke-width="0.9"/>
<line x1="282.9" y1="477" x2="282.9" y2="475.6" stroke="#A2142F" stroke-width="0.9"/>
<line x1="301.6" y1="477" x2="301.6" y2="475.6" stroke="#A2142F" stroke-width="0.9"/>
<line x1="218" y1="477" x2="218" y2="479" stroke="#262626" stroke-width="1"/>
<line x1="218" y1="429" x2="218" y2="427" stroke="#262626" stroke-width="1"/>
<line x1="249.9" y1="477" x2="249.9" y2="479" stroke="#262626" stroke-width="1"/>
<line x1="249.9" y1="429" x2="249.9" y2="427" stroke="#262626" stroke-width="1"/>
<line x1="281.8" y1="477" x2="281.8" y2="479" stroke="#262626" stroke-width="1"/>
<line x1="281.8" y1="429" x2="281.8" y2="427" stroke="#262626" stroke-width="1"/>
<line x1="313.6" y1="477" x2="313.6" y2="479" stroke="#262626" stroke-width="1"/>
<line x1="313.6" y1="429" x2="313.6" y2="427" stroke="#262626" stroke-width="1"/>
<line x1="345.5" y1="477" x2="345.5" y2="479" stroke="#262626" stroke-width="1"/>
<line x1="345.5" y1="429" x2="345.5" y2="427" stroke="#262626" stroke-width="1"/>
<line x1="205.6" y1="477" x2="203.6" y2="477" stroke="#262626" stroke-width="1"/>
<line x1="345" y1="477" x2="347" y2="477" stroke="#262626" stroke-width="1"/>
<line x1="205.6" y1="453" x2="203.6" y2="453" stroke="#262626" stroke-width="1"/>
<line x1="345" y1="453" x2="347" y2="453" stroke="#262626" stroke-width="1"/>
<line x1="205.6" y1="429" x2="203.6" y2="429" stroke="#262626" stroke-width="1"/>
<line x1="345" y1="429" x2="347" y2="429" stroke="#262626" stroke-width="1"/>
<rect x="205.6" y="429" width="139.4" height="48" fill="none" stroke="#262626" stroke-width="1"/>
<text transform="translate(202.5,481.2) scale(1,1.05)" font-size="9.2" text-anchor="end" fill="#262626" >0</text>
<text transform="translate(202.5,457.2) scale(1,1.05)" font-size="9.2" text-anchor="end" fill="#262626" >0.2</text>
<text transform="translate(202.5,433.2) scale(1,1.05)" font-size="9.2" text-anchor="end" fill="#262626" >0.4</text>
<text transform="translate(278,424.2) scale(1,1.08)" font-size="9.2" text-anchor="middle" fill="#262626">BB-LVOA</text>
<text transform="translate(342.5,427) scale(1,1.04)" font-size="9.5" text-anchor="end" fill="#262626" >(g2)</text>
<text x="241" y="440" fill="#262626" style="text-rendering:optimizeSpeed"><tspan font-size="6.75" dy="0">C</tspan><tspan font-size="5.0" dy="3.2" stroke="#262626" stroke-width="0.2">6</tspan><tspan font-size="6.75" dy="-3.2">H</tspan><tspan font-size="5.0" dy="3.2" stroke="#262626" stroke-width="0.2">5</tspan><tspan font-size="6.75" dy="-3.2">NO</tspan><tspan font-size="5.0" dy="3.2" stroke="#262626" stroke-width="0.2">4</tspan><tspan font-size="6.75" dy="-3.2">I</tspan><tspan font-size="5.0" dy="-3.4" stroke="#262626" stroke-width="0.2">-</tspan></text>
<line x1="259.7" y1="447.5" x2="268.04" y2="467.25" stroke="#000" stroke-width="0.55"/>
<polygon points="269.5,470.7 265.8,466.83 268.04,467.25 269.3,465.35" fill="#000"/>
<text x="213.2" y="450.5" fill="#262626" style="text-rendering:optimizeSpeed"><tspan font-size="6.75" dy="0">C</tspan><tspan font-size="5.0" dy="3.2" stroke="#262626" stroke-width="0.2">6</tspan><tspan font-size="6.75" dy="-3.2">H</tspan><tspan font-size="5.0" dy="3.2" stroke="#262626" stroke-width="0.2">5</tspan><tspan font-size="6.75" dy="-3.2">NO</tspan><tspan font-size="5.0" dy="3.2" stroke="#262626" stroke-width="0.2">3</tspan><tspan font-size="6.75" dy="-3.2">I</tspan><tspan font-size="5.0" dy="-3.4" stroke="#262626" stroke-width="0.2">-</tspan></text>
<line x1="247.7" y1="453.5" x2="257.01" y2="468.32" stroke="#000" stroke-width="0.55"/>
<polygon points="259,471.5 254.73,468.28 257.01,468.32 257.95,466.26" fill="#000"/>
<text x="214.7" y="467" fill="#262626" style="text-rendering:optimizeSpeed"><tspan font-size="6.75" dy="0">C</tspan><tspan font-size="5.0" dy="3.2" stroke="#262626" stroke-width="0.2">5</tspan><tspan font-size="6.75" dy="-3.2">H</tspan><tspan font-size="5.0" dy="3.2" stroke="#262626" stroke-width="0.2">6</tspan><tspan font-size="6.75" dy="-3.2">O</tspan><tspan font-size="5.0" dy="3.2" stroke="#262626" stroke-width="0.2">4</tspan><tspan font-size="6.75" dy="-3.2">I</tspan><tspan font-size="5.0" dy="-3.4" stroke="#262626" stroke-width="0.2">-</tspan></text>
<line x1="241.7" y1="467" x2="248.84" y2="470.54" stroke="#000" stroke-width="0.55"/>
<polygon points="252.2,472.2 246.88,471.68 248.84,470.54 248.56,468.28" fill="#000"/>
<text x="290.5" y="436.3" fill="#262626" style="text-rendering:optimizeSpeed"><tspan font-size="6.75" dy="0">C</tspan><tspan font-size="5.0" dy="3.2" stroke="#262626" stroke-width="0.2">6</tspan><tspan font-size="6.75" dy="-3.2">H</tspan><tspan font-size="5.0" dy="3.2" stroke="#262626" stroke-width="0.2">10</tspan><tspan font-size="6.75" dy="-3.2">O</tspan><tspan font-size="5.0" dy="3.2" stroke="#262626" stroke-width="0.2">5</tspan><tspan font-size="6.75" dy="-3.2">I</tspan><tspan font-size="5.0" dy="-3.4" stroke="#262626" stroke-width="0.2">-</tspan></text>
<line x1="289.7" y1="434.4" x2="280.56" y2="436.4" stroke="#000" stroke-width="0.55"/>
<polygon points="276.9,437.2 281.38,434.28 280.56,436.4 282.19,437.99" fill="#000"/>
<line x1="305.09" y1="543.8" x2="305.09" y2="542.62" stroke="#000000" stroke-width="0.8"/>
<line x1="260.36" y1="543.8" x2="260.36" y2="543.17" stroke="#000000" stroke-width="0.8"/>
<line x1="341.91" y1="543.8" x2="341.91" y2="543.35" stroke="#000000" stroke-width="0.8"/>
<line x1="306.21" y1="543.8" x2="306.21" y2="542.86" stroke="#000000" stroke-width="0.8"/>
<line x1="213" y1="543.8" x2="213" y2="542.66" stroke="#000000" stroke-width="0.8"/>
<line x1="329.2" y1="543.8" x2="329.2" y2="542.87" stroke="#000000" stroke-width="0.8"/>
<line x1="307.54" y1="543.8" x2="307.54" y2="542.69" stroke="#000000" stroke-width="0.8"/>
<line x1="226.09" y1="543.8" x2="226.09" y2="542.98" stroke="#000000" stroke-width="0.8"/>
<line x1="276.1" y1="543.8" x2="276.1" y2="542.67" stroke="#000000" stroke-width="0.8"/>
<line x1="317.24" y1="543.8" x2="317.24" y2="542.67" stroke="#000000" stroke-width="0.8"/>
<line x1="287.02" y1="543.8" x2="287.02" y2="542.61" stroke="#000000" stroke-width="0.8"/>
<line x1="300.56" y1="543.8" x2="300.56" y2="542.81" stroke="#000000" stroke-width="0.8"/>
<line x1="238.5" y1="543.8" x2="238.5" y2="543.47" stroke="#000000" stroke-width="0.8"/>
<line x1="225.23" y1="543.8" x2="225.23" y2="543.14" stroke="#000000" stroke-width="0.8"/>
<line x1="221.37" y1="543.8" x2="221.37" y2="542.66" stroke="#000000" stroke-width="0.8"/>
<line x1="283.52" y1="543.8" x2="283.52" y2="542.87" stroke="#000000" stroke-width="0.8"/>
<line x1="292.79" y1="543.8" x2="292.79" y2="542.82" stroke="#000000" stroke-width="0.8"/>
<line x1="274.03" y1="543.8" x2="274.03" y2="543.5" stroke="#000000" stroke-width="0.8"/>
<line x1="316.28" y1="543.8" x2="316.28" y2="542.75" stroke="#000000" stroke-width="0.8"/>
<line x1="275.91" y1="543.8" x2="275.91" y2="542.96" stroke="#000000" stroke-width="0.8"/>
<line x1="297.32" y1="543.8" x2="297.32" y2="543.43" stroke="#000000" stroke-width="0.8"/>
<line x1="307.94" y1="543.8" x2="307.94" y2="543.25" stroke="#000000" stroke-width="0.8"/>
<line x1="217.2" y1="543.8" x2="217.2" y2="543.23" stroke="#000000" stroke-width="0.8"/>
<line x1="306.92" y1="543.8" x2="306.92" y2="543.29" stroke="#000000" stroke-width="0.8"/>
<line x1="308.36" y1="543.8" x2="308.36" y2="542.52" stroke="#000000" stroke-width="0.8"/>
<line x1="274.67" y1="543.8" x2="274.67" y2="543.12" stroke="#000000" stroke-width="0.8"/>
<line x1="272.62" y1="543.8" x2="272.62" y2="542.82" stroke="#000000" stroke-width="0.8"/>
<line x1="312.07" y1="543.8" x2="312.07" y2="542.88" stroke="#000000" stroke-width="0.8"/>
<line x1="295.06" y1="543.8" x2="295.06" y2="543.42" stroke="#000000" stroke-width="0.8"/>
<line x1="227.2" y1="543.8" x2="227.2" y2="543.25" stroke="#000000" stroke-width="0.8"/>
<line x1="308.82" y1="543.8" x2="308.82" y2="543.2" stroke="#000000" stroke-width="0.8"/>
<line x1="284.78" y1="543.8" x2="284.78" y2="543.49" stroke="#000000" stroke-width="0.8"/>
<line x1="215.31" y1="543.8" x2="215.31" y2="543.23" stroke="#000000" stroke-width="0.8"/>
<line x1="299.06" y1="543.8" x2="299.06" y2="542.81" stroke="#000000" stroke-width="0.8"/>
<line x1="299.57" y1="543.8" x2="299.57" y2="543.21" stroke="#000000" stroke-width="0.8"/>
<line x1="227.5" y1="543.8" x2="227.5" y2="539.2" stroke="#000000" stroke-width="0.9"/>
<line x1="228.7" y1="543.8" x2="228.7" y2="540" stroke="#000000" stroke-width="0.9"/>
<line x1="232.7" y1="543.8" x2="232.7" y2="539.2" stroke="#000000" stroke-width="0.9"/>
<line x1="237.2" y1="543.8" x2="237.2" y2="540.3" stroke="#000000" stroke-width="0.9"/>
<line x1="246.7" y1="543.8" x2="246.7" y2="534.7" stroke="#000000" stroke-width="0.9"/>
<line x1="254.5" y1="543.8" x2="254.5" y2="532.5" stroke="#000000" stroke-width="0.9"/>
<line x1="256.7" y1="543.8" x2="256.7" y2="537.7" stroke="#000000" stroke-width="0.9"/>
<line x1="260.2" y1="543.8" x2="260.2" y2="538.5" stroke="#000000" stroke-width="0.9"/>
<line x1="266.5" y1="543.8" x2="266.5" y2="541.5" stroke="#000000" stroke-width="0.9"/>
<line x1="273.2" y1="543.8" x2="273.2" y2="541.5" stroke="#000000" stroke-width="0.9"/>
<line x1="274.4" y1="543.8" x2="274.4" y2="505.3" stroke="#000000" stroke-width="0.9"/>
<line x1="281.2" y1="543.8" x2="281.2" y2="539.6" stroke="#000000" stroke-width="0.9"/>
<line x1="290.5" y1="543.8" x2="290.5" y2="537" stroke="#000000" stroke-width="0.9"/>
<line x1="299.9" y1="543.8" x2="299.9" y2="541" stroke="#000000" stroke-width="0.9"/>
<line x1="319.4" y1="543.8" x2="319.4" y2="532" stroke="#000000" stroke-width="0.9"/>
<line x1="328.8" y1="543.8" x2="328.8" y2="540.5" stroke="#000000" stroke-width="0.9"/>
<line x1="337.3" y1="543.8" x2="337.3" y2="537.9" stroke="#000000" stroke-width="0.9"/>
<line x1="218" y1="543.8" x2="218" y2="545.8" stroke="#262626" stroke-width="1"/>
<line x1="218" y1="495.8" x2="218" y2="493.8" stroke="#262626" stroke-width="1"/>
<line x1="249.9" y1="543.8" x2="249.9" y2="545.8" stroke="#262626" stroke-width="1"/>
<line x1="249.9" y1="495.8" x2="249.9" y2="493.8" stroke="#262626" stroke-width="1"/>
<line x1="281.8" y1="543.8" x2="281.8" y2="545.8" stroke="#262626" stroke-width="1"/>
<line x1="281.8" y1="495.8" x2="281.8" y2="493.8" stroke="#262626" stroke-width="1"/>
<line x1="313.6" y1="543.8" x2="313.6" y2="545.8" stroke="#262626" stroke-width="1"/>
<line x1="313.6" y1="495.8" x2="313.6" y2="493.8" stroke="#262626" stroke-width="1"/>
<line x1="345.5" y1="543.8" x2="345.5" y2="545.8" stroke="#262626" stroke-width="1"/>
<line x1="345.5" y1="495.8" x2="345.5" y2="493.8" stroke="#262626" stroke-width="1"/>
<line x1="205.6" y1="543.8" x2="203.6" y2="543.8" stroke="#262626" stroke-width="1"/>
<line x1="345" y1="543.8" x2="347" y2="543.8" stroke="#262626" stroke-width="1"/>
<line x1="205.6" y1="519.8" x2="203.6" y2="519.8" stroke="#262626" stroke-width="1"/>
<line x1="345" y1="519.8" x2="347" y2="519.8" stroke="#262626" stroke-width="1"/>
<line x1="205.6" y1="495.8" x2="203.6" y2="495.8" stroke="#262626" stroke-width="1"/>
<line x1="345" y1="495.8" x2="347" y2="495.8" stroke="#262626" stroke-width="1"/>
<rect x="205.6" y="495.8" width="139.4" height="48" fill="none" stroke="#262626" stroke-width="1"/>
<text transform="translate(202.5,548) scale(1,1.05)" font-size="9.2" text-anchor="end" fill="#262626" >0</text>
<text transform="translate(202.5,524) scale(1,1.05)" font-size="9.2" text-anchor="end" fill="#262626" >0.04</text>
<text transform="translate(202.5,500) scale(1,1.05)" font-size="9.2" text-anchor="end" fill="#262626" >0.08</text>
<text transform="translate(277.3,490.9) scale(1,1.08)" font-size="9.2" text-anchor="middle" fill="#262626">Night-LVOA</text>
<text transform="translate(341.2,494.5) scale(1,1.04)" font-size="9.5" text-anchor="end" fill="#262626" >(h2)</text>
<text x="227.5" y="505.5" fill="#262626" style="text-rendering:optimizeSpeed"><tspan font-size="6.75" dy="0">C</tspan><tspan font-size="5.0" dy="3.2" stroke="#262626" stroke-width="0.2">6</tspan><tspan font-size="6.75" dy="-3.2">H</tspan><tspan font-size="5.0" dy="3.2" stroke="#262626" stroke-width="0.2">10</tspan><tspan font-size="6.75" dy="-3.2">O</tspan><tspan font-size="5.0" dy="3.2" stroke="#262626" stroke-width="0.2">5</tspan><tspan font-size="6.75" dy="-3.2">I</tspan><tspan font-size="5.0" dy="-3.4" stroke="#262626" stroke-width="0.2">-</tspan></text>
<line x1="259.7" y1="505.2" x2="267.97" y2="506.1" stroke="#000" stroke-width="0.55"/>
<polygon points="271.7,506.5 266.52,507.85 267.97,506.1 266.93,504.07" fill="#000"/>
<text x="212.5" y="516" fill="#262626" style="text-rendering:optimizeSpeed"><tspan font-size="6.75" dy="0">C</tspan><tspan font-size="5.0" dy="3.2" stroke="#262626" stroke-width="0.2">6</tspan><tspan font-size="6.75" dy="-3.2">H</tspan><tspan font-size="5.0" dy="3.2" stroke="#262626" stroke-width="0.2">5</tspan><tspan font-size="6.75" dy="-3.2">NO</tspan><tspan font-size="5.0" dy="3.2" stroke="#262626" stroke-width="0.2">3</tspan><tspan font-size="6.75" dy="-3.2">I</tspan><tspan font-size="5.0" dy="-3.4" stroke="#262626" stroke-width="0.2">-</tspan></text>
<line x1="245.5" y1="519" x2="257.38" y2="534.06" stroke="#000" stroke-width="0.55"/>
<polygon points="259.7,537 255.11,534.25 257.38,534.06 258.09,531.9" fill="#000"/>
<text x="214" y="529.5" fill="#262626" style="text-rendering:optimizeSpeed"><tspan font-size="6.75" dy="0">C</tspan><tspan font-size="5.0" dy="3.2" stroke="#262626" stroke-width="0.2">5</tspan><tspan font-size="6.75" dy="-3.2">H</tspan><tspan font-size="5.0" dy="3.2" stroke="#262626" stroke-width="0.2">6</tspan><tspan font-size="6.75" dy="-3.2">O</tspan><tspan font-size="5.0" dy="3.2" stroke="#262626" stroke-width="0.2">4</tspan><tspan font-size="6.75" dy="-3.2">I</tspan><tspan font-size="5.0" dy="-3.4" stroke="#262626" stroke-width="0.2">-</tspan></text>
<line x1="243.7" y1="530.2" x2="248.61" y2="531.7" stroke="#000" stroke-width="0.55"/>
<polygon points="252.2,532.8 246.86,533.15 248.61,531.7 247.97,529.52" fill="#000"/>
<text x="276.9" y="522.8" fill="#262626" style="text-rendering:optimizeSpeed"><tspan font-size="6.75" dy="0">C</tspan><tspan font-size="5.0" dy="3.2" stroke="#262626" stroke-width="0.2">8</tspan><tspan font-size="6.75" dy="-3.2">H</tspan><tspan font-size="5.0" dy="3.2" stroke="#262626" stroke-width="0.2">12</tspan><tspan font-size="6.75" dy="-3.2">O</tspan><tspan font-size="5.0" dy="3.2" stroke="#262626" stroke-width="0.2">5</tspan><tspan font-size="6.75" dy="-3.2">I</tspan><tspan font-size="5.0" dy="-3.4" stroke="#262626" stroke-width="0.2">-</tspan></text>
<line x1="288" y1="526.9" x2="289.44" y2="531.8" stroke="#000" stroke-width="0.55"/>
<polygon points="290.5,535.4 287.27,531.14 289.44,531.8 290.91,530.07" fill="#000"/>
<text x="291.4" y="514.3" fill="#262626" style="text-rendering:optimizeSpeed"><tspan font-size="6.75" dy="0">C</tspan><tspan font-size="5.0" dy="3.2" stroke="#262626" stroke-width="0.2">8</tspan><tspan font-size="6.75" dy="-3.2">H</tspan><tspan font-size="5.0" dy="3.2" stroke="#262626" stroke-width="0.2">11</tspan><tspan font-size="6.75" dy="-3.2">NO</tspan><tspan font-size="5.0" dy="3.2" stroke="#262626" stroke-width="0.2">3</tspan><tspan font-size="6.75" dy="-3.2">I</tspan><tspan font-size="5.0" dy="-3.4" stroke="#262626" stroke-width="0.2">-</tspan></text>
<line x1="312.6" y1="520" x2="316.04" y2="526.94" stroke="#000" stroke-width="0.55"/>
<polygon points="317.7,530.3 313.78,526.66 316.04,526.94 317.18,524.98" fill="#000"/>
<text x="307.5" y="505.8" fill="#262626" style="text-rendering:optimizeSpeed"><tspan font-size="6.75" dy="0">C</tspan><tspan font-size="5.0" dy="3.2" stroke="#262626" stroke-width="0.2">10</tspan><tspan font-size="6.75" dy="-3.2">H</tspan><tspan font-size="5.0" dy="3.2" stroke="#262626" stroke-width="0.2">15</tspan><tspan font-size="6.75" dy="-3.2">NO</tspan><tspan font-size="5.0" dy="3.2" stroke="#262626" stroke-width="0.2">3</tspan><tspan font-size="6.75" dy="-3.2">I</tspan><tspan font-size="5.0" dy="-3.4" stroke="#262626" stroke-width="0.2">-</tspan></text>
<line x1="333" y1="510.7" x2="335.9" y2="532.48" stroke="#000" stroke-width="0.55"/>
<polygon points="336.4,536.2 333.86,531.49 335.9,532.48 337.62,530.99" fill="#000"/>
<text transform="translate(218,558.3) scale(1,1.05)" font-size="9.2" text-anchor="middle" fill="#262626" >200</text>
<text transform="translate(249.9,558.3) scale(1,1.05)" font-size="9.2" text-anchor="middle" fill="#262626" >250</text>
<text transform="translate(281.8,558.3) scale(1,1.05)" font-size="9.2" text-anchor="middle" fill="#262626" >300</text>
<text transform="translate(313.6,558.3) scale(1,1.05)" font-size="9.2" text-anchor="middle" fill="#262626" >350</text>
<text transform="translate(345.5,558.3) scale(1,1.05)" font-size="9.2" text-anchor="middle" fill="#262626" >400</text>
<rect x="342.4" y="556.1" width="18" height="7" fill="#fff"/>
<text transform="translate(275.9,569.8) scale(1,1.04)" font-size="11.8" text-anchor="middle" fill="#262626" >m/z (Th)</text>
<text transform="translate(176.7,272.1) rotate(-90)" font-size="12" text-anchor="middle" fill="#262626">Fraction of signals</text>
</svg></body></html>
